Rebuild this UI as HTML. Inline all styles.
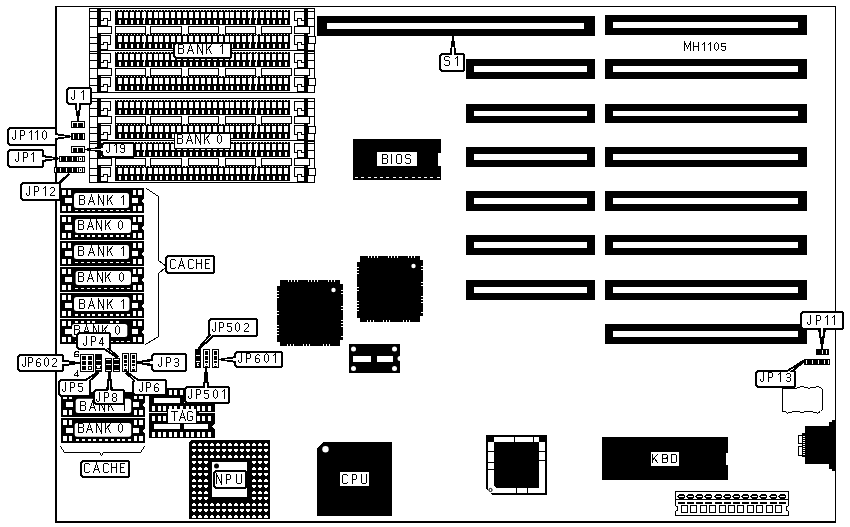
<!DOCTYPE html>
<html><head><meta charset="utf-8"><style>
html,body{margin:0;padding:0;background:#fff;}
svg{display:block;font-family:"Liberation Sans",sans-serif;}
</style></head><body>
<svg width="850" height="527" viewBox="0 0 850 527" shape-rendering="crispEdges">
<rect width="850" height="527" fill="#fff"/>
<rect x="55" y="6" width="781" height="1" fill="#000" />
<rect x="55" y="6" width="2" height="517" fill="#000" />
<rect x="835" y="6" width="1" height="517" fill="#000" />
<rect x="55" y="521" width="781" height="2" fill="#000" />
<rect x="317" y="16" width="278" height="20" fill="#000" />
<rect x="327" y="23" width="257" height="6" fill="#fff" />
<rect x="466" y="59" width="129" height="20" fill="#000" />
<rect x="474" y="66" width="113" height="6" fill="#fff" />
<rect x="466" y="104" width="129" height="19" fill="#000" />
<rect x="474" y="111" width="113" height="5" fill="#fff" />
<rect x="466" y="147" width="129" height="20" fill="#000" />
<rect x="474" y="154" width="113" height="6" fill="#fff" />
<rect x="466" y="191" width="129" height="20" fill="#000" />
<rect x="474" y="198" width="113" height="6" fill="#fff" />
<rect x="466" y="235" width="129" height="20" fill="#000" />
<rect x="474" y="242" width="113" height="6" fill="#fff" />
<rect x="466" y="280" width="129" height="20" fill="#000" />
<rect x="474" y="287" width="113" height="6" fill="#fff" />
<rect x="605" y="15" width="202" height="20" fill="#000" />
<rect x="613" y="22" width="185" height="6" fill="#fff" />
<rect x="605" y="59" width="202" height="20" fill="#000" />
<rect x="613" y="66" width="185" height="6" fill="#fff" />
<rect x="605" y="104" width="202" height="19" fill="#000" />
<rect x="613" y="111" width="185" height="5" fill="#fff" />
<rect x="605" y="147" width="202" height="20" fill="#000" />
<rect x="613" y="154" width="185" height="6" fill="#fff" />
<rect x="605" y="191" width="202" height="20" fill="#000" />
<rect x="613" y="198" width="185" height="6" fill="#fff" />
<rect x="605" y="235" width="202" height="20" fill="#000" />
<rect x="613" y="242" width="185" height="6" fill="#fff" />
<rect x="605" y="280" width="202" height="20" fill="#000" />
<rect x="613" y="287" width="185" height="6" fill="#fff" />
<rect x="605" y="324" width="202" height="20" fill="#000" />
<rect x="613" y="331" width="185" height="6" fill="#fff" />
<rect x="89" y="8" width="226" height="1" fill="#000" />
<rect x="89" y="8" width="1" height="85" fill="#000" />
<rect x="314" y="8" width="1" height="85" fill="#000" />
<rect x="89" y="92" width="226" height="1" fill="#000" />
<rect x="97" y="8" width="4" height="85" fill="#000" />
<rect x="304" y="8" width="4" height="85" fill="#000" />
<rect x="115" y="10" width="175" height="15" fill="#000" />
<rect x="116" y="10" width="1" height="1" fill="#fff" />
<rect x="119" y="10" width="1" height="1" fill="#fff" />
<rect x="122" y="10" width="1" height="1" fill="#fff" />
<rect x="125" y="10" width="1" height="1" fill="#fff" />
<rect x="128" y="10" width="1" height="1" fill="#fff" />
<rect x="131" y="10" width="1" height="1" fill="#fff" />
<rect x="134" y="10" width="1" height="1" fill="#fff" />
<rect x="137" y="10" width="1" height="1" fill="#fff" />
<rect x="140" y="10" width="1" height="1" fill="#fff" />
<rect x="143" y="10" width="1" height="1" fill="#fff" />
<rect x="146" y="10" width="1" height="1" fill="#fff" />
<rect x="149" y="10" width="1" height="1" fill="#fff" />
<rect x="152" y="10" width="1" height="1" fill="#fff" />
<rect x="155" y="10" width="1" height="1" fill="#fff" />
<rect x="158" y="10" width="1" height="1" fill="#fff" />
<rect x="161" y="10" width="1" height="1" fill="#fff" />
<rect x="164" y="10" width="1" height="1" fill="#fff" />
<rect x="167" y="10" width="1" height="1" fill="#fff" />
<rect x="170" y="10" width="1" height="1" fill="#fff" />
<rect x="173" y="10" width="1" height="1" fill="#fff" />
<rect x="176" y="10" width="1" height="1" fill="#fff" />
<rect x="179" y="10" width="1" height="1" fill="#fff" />
<rect x="182" y="10" width="1" height="1" fill="#fff" />
<rect x="185" y="10" width="1" height="1" fill="#fff" />
<rect x="188" y="10" width="1" height="1" fill="#fff" />
<rect x="191" y="10" width="1" height="1" fill="#fff" />
<rect x="194" y="10" width="1" height="1" fill="#fff" />
<rect x="197" y="10" width="1" height="1" fill="#fff" />
<rect x="200" y="10" width="1" height="1" fill="#fff" />
<rect x="203" y="10" width="1" height="1" fill="#fff" />
<rect x="206" y="10" width="1" height="1" fill="#fff" />
<rect x="209" y="10" width="1" height="1" fill="#fff" />
<rect x="212" y="10" width="1" height="1" fill="#fff" />
<rect x="215" y="10" width="1" height="1" fill="#fff" />
<rect x="218" y="10" width="1" height="1" fill="#fff" />
<rect x="221" y="10" width="1" height="1" fill="#fff" />
<rect x="224" y="10" width="1" height="1" fill="#fff" />
<rect x="227" y="10" width="1" height="1" fill="#fff" />
<rect x="230" y="10" width="1" height="1" fill="#fff" />
<rect x="233" y="10" width="1" height="1" fill="#fff" />
<rect x="236" y="10" width="1" height="1" fill="#fff" />
<rect x="239" y="10" width="1" height="1" fill="#fff" />
<rect x="242" y="10" width="1" height="1" fill="#fff" />
<rect x="245" y="10" width="1" height="1" fill="#fff" />
<rect x="248" y="10" width="1" height="1" fill="#fff" />
<rect x="251" y="10" width="1" height="1" fill="#fff" />
<rect x="254" y="10" width="1" height="1" fill="#fff" />
<rect x="257" y="10" width="1" height="1" fill="#fff" />
<rect x="260" y="10" width="1" height="1" fill="#fff" />
<rect x="263" y="10" width="1" height="1" fill="#fff" />
<rect x="266" y="10" width="1" height="1" fill="#fff" />
<rect x="269" y="10" width="1" height="1" fill="#fff" />
<rect x="272" y="10" width="1" height="1" fill="#fff" />
<rect x="275" y="10" width="1" height="1" fill="#fff" />
<rect x="278" y="10" width="1" height="1" fill="#fff" />
<rect x="281" y="10" width="1" height="1" fill="#fff" />
<rect x="284" y="10" width="1" height="1" fill="#fff" />
<rect x="287" y="10" width="1" height="1" fill="#fff" />
<rect x="118" y="12" width="4" height="6" fill="#fff" />
<rect x="119" y="20" width="2" height="4" fill="#fff" />
<rect x="124" y="12" width="4" height="6" fill="#fff" />
<rect x="125" y="20" width="2" height="4" fill="#fff" />
<rect x="130" y="12" width="4" height="6" fill="#fff" />
<rect x="131" y="20" width="2" height="4" fill="#fff" />
<rect x="136" y="12" width="4" height="6" fill="#fff" />
<rect x="137" y="20" width="2" height="4" fill="#fff" />
<rect x="142" y="12" width="4" height="6" fill="#fff" />
<rect x="143" y="20" width="2" height="4" fill="#fff" />
<rect x="144" y="11" width="1" height="13" fill="#fff" />
<rect x="148" y="12" width="4" height="6" fill="#fff" />
<rect x="149" y="20" width="2" height="4" fill="#fff" />
<rect x="154" y="12" width="4" height="6" fill="#fff" />
<rect x="155" y="20" width="2" height="4" fill="#fff" />
<rect x="159" y="12" width="4" height="6" fill="#fff" />
<rect x="160" y="20" width="2" height="4" fill="#fff" />
<rect x="165" y="12" width="4" height="6" fill="#fff" />
<rect x="166" y="20" width="2" height="4" fill="#fff" />
<rect x="171" y="12" width="4" height="6" fill="#fff" />
<rect x="172" y="20" width="2" height="4" fill="#fff" />
<rect x="177" y="12" width="4" height="6" fill="#fff" />
<rect x="178" y="20" width="2" height="4" fill="#fff" />
<rect x="183" y="12" width="4" height="6" fill="#fff" />
<rect x="184" y="20" width="2" height="4" fill="#fff" />
<rect x="189" y="12" width="4" height="6" fill="#fff" />
<rect x="190" y="20" width="2" height="4" fill="#fff" />
<rect x="195" y="12" width="4" height="6" fill="#fff" />
<rect x="196" y="20" width="2" height="4" fill="#fff" />
<rect x="201" y="12" width="4" height="6" fill="#fff" />
<rect x="202" y="20" width="2" height="4" fill="#fff" />
<rect x="207" y="12" width="4" height="6" fill="#fff" />
<rect x="208" y="20" width="2" height="4" fill="#fff" />
<rect x="213" y="12" width="4" height="6" fill="#fff" />
<rect x="214" y="20" width="2" height="4" fill="#fff" />
<rect x="219" y="12" width="4" height="6" fill="#fff" />
<rect x="220" y="20" width="2" height="4" fill="#fff" />
<rect x="225" y="12" width="4" height="6" fill="#fff" />
<rect x="226" y="20" width="2" height="4" fill="#fff" />
<rect x="230" y="12" width="4" height="6" fill="#fff" />
<rect x="231" y="20" width="2" height="4" fill="#fff" />
<rect x="236" y="12" width="4" height="6" fill="#fff" />
<rect x="237" y="20" width="2" height="4" fill="#fff" />
<rect x="242" y="12" width="4" height="6" fill="#fff" />
<rect x="243" y="20" width="2" height="4" fill="#fff" />
<rect x="248" y="12" width="4" height="6" fill="#fff" />
<rect x="249" y="20" width="2" height="4" fill="#fff" />
<rect x="250" y="11" width="1" height="13" fill="#fff" />
<rect x="254" y="12" width="4" height="6" fill="#fff" />
<rect x="255" y="20" width="2" height="4" fill="#fff" />
<rect x="256" y="11" width="1" height="13" fill="#fff" />
<rect x="260" y="12" width="4" height="6" fill="#fff" />
<rect x="261" y="20" width="2" height="4" fill="#fff" />
<rect x="266" y="12" width="4" height="6" fill="#fff" />
<rect x="267" y="20" width="2" height="4" fill="#fff" />
<rect x="272" y="12" width="4" height="6" fill="#fff" />
<rect x="273" y="20" width="2" height="4" fill="#fff" />
<rect x="278" y="12" width="4" height="6" fill="#fff" />
<rect x="279" y="20" width="2" height="4" fill="#fff" />
<rect x="284" y="12" width="4" height="6" fill="#fff" />
<rect x="285" y="20" width="2" height="4" fill="#fff" />
<rect x="115" y="34" width="175" height="15" fill="#000" />
<rect x="116" y="34" width="1" height="1" fill="#fff" />
<rect x="119" y="34" width="1" height="1" fill="#fff" />
<rect x="122" y="34" width="1" height="1" fill="#fff" />
<rect x="125" y="34" width="1" height="1" fill="#fff" />
<rect x="128" y="34" width="1" height="1" fill="#fff" />
<rect x="131" y="34" width="1" height="1" fill="#fff" />
<rect x="134" y="34" width="1" height="1" fill="#fff" />
<rect x="137" y="34" width="1" height="1" fill="#fff" />
<rect x="140" y="34" width="1" height="1" fill="#fff" />
<rect x="143" y="34" width="1" height="1" fill="#fff" />
<rect x="146" y="34" width="1" height="1" fill="#fff" />
<rect x="149" y="34" width="1" height="1" fill="#fff" />
<rect x="152" y="34" width="1" height="1" fill="#fff" />
<rect x="155" y="34" width="1" height="1" fill="#fff" />
<rect x="158" y="34" width="1" height="1" fill="#fff" />
<rect x="161" y="34" width="1" height="1" fill="#fff" />
<rect x="164" y="34" width="1" height="1" fill="#fff" />
<rect x="167" y="34" width="1" height="1" fill="#fff" />
<rect x="170" y="34" width="1" height="1" fill="#fff" />
<rect x="173" y="34" width="1" height="1" fill="#fff" />
<rect x="176" y="34" width="1" height="1" fill="#fff" />
<rect x="179" y="34" width="1" height="1" fill="#fff" />
<rect x="182" y="34" width="1" height="1" fill="#fff" />
<rect x="185" y="34" width="1" height="1" fill="#fff" />
<rect x="188" y="34" width="1" height="1" fill="#fff" />
<rect x="191" y="34" width="1" height="1" fill="#fff" />
<rect x="194" y="34" width="1" height="1" fill="#fff" />
<rect x="197" y="34" width="1" height="1" fill="#fff" />
<rect x="200" y="34" width="1" height="1" fill="#fff" />
<rect x="203" y="34" width="1" height="1" fill="#fff" />
<rect x="206" y="34" width="1" height="1" fill="#fff" />
<rect x="209" y="34" width="1" height="1" fill="#fff" />
<rect x="212" y="34" width="1" height="1" fill="#fff" />
<rect x="215" y="34" width="1" height="1" fill="#fff" />
<rect x="218" y="34" width="1" height="1" fill="#fff" />
<rect x="221" y="34" width="1" height="1" fill="#fff" />
<rect x="224" y="34" width="1" height="1" fill="#fff" />
<rect x="227" y="34" width="1" height="1" fill="#fff" />
<rect x="230" y="34" width="1" height="1" fill="#fff" />
<rect x="233" y="34" width="1" height="1" fill="#fff" />
<rect x="236" y="34" width="1" height="1" fill="#fff" />
<rect x="239" y="34" width="1" height="1" fill="#fff" />
<rect x="242" y="34" width="1" height="1" fill="#fff" />
<rect x="245" y="34" width="1" height="1" fill="#fff" />
<rect x="248" y="34" width="1" height="1" fill="#fff" />
<rect x="251" y="34" width="1" height="1" fill="#fff" />
<rect x="254" y="34" width="1" height="1" fill="#fff" />
<rect x="257" y="34" width="1" height="1" fill="#fff" />
<rect x="260" y="34" width="1" height="1" fill="#fff" />
<rect x="263" y="34" width="1" height="1" fill="#fff" />
<rect x="266" y="34" width="1" height="1" fill="#fff" />
<rect x="269" y="34" width="1" height="1" fill="#fff" />
<rect x="272" y="34" width="1" height="1" fill="#fff" />
<rect x="275" y="34" width="1" height="1" fill="#fff" />
<rect x="278" y="34" width="1" height="1" fill="#fff" />
<rect x="281" y="34" width="1" height="1" fill="#fff" />
<rect x="284" y="34" width="1" height="1" fill="#fff" />
<rect x="287" y="34" width="1" height="1" fill="#fff" />
<rect x="118" y="36" width="4" height="6" fill="#fff" />
<rect x="119" y="44" width="2" height="4" fill="#fff" />
<rect x="124" y="36" width="4" height="6" fill="#fff" />
<rect x="125" y="44" width="2" height="4" fill="#fff" />
<rect x="130" y="36" width="4" height="6" fill="#fff" />
<rect x="131" y="44" width="2" height="4" fill="#fff" />
<rect x="136" y="36" width="4" height="6" fill="#fff" />
<rect x="137" y="44" width="2" height="4" fill="#fff" />
<rect x="142" y="36" width="4" height="6" fill="#fff" />
<rect x="143" y="44" width="2" height="4" fill="#fff" />
<rect x="144" y="35" width="1" height="13" fill="#fff" />
<rect x="148" y="36" width="4" height="6" fill="#fff" />
<rect x="149" y="44" width="2" height="4" fill="#fff" />
<rect x="154" y="36" width="4" height="6" fill="#fff" />
<rect x="155" y="44" width="2" height="4" fill="#fff" />
<rect x="159" y="36" width="4" height="6" fill="#fff" />
<rect x="160" y="44" width="2" height="4" fill="#fff" />
<rect x="165" y="36" width="4" height="6" fill="#fff" />
<rect x="166" y="44" width="2" height="4" fill="#fff" />
<rect x="171" y="36" width="4" height="6" fill="#fff" />
<rect x="172" y="44" width="2" height="4" fill="#fff" />
<rect x="177" y="36" width="4" height="6" fill="#fff" />
<rect x="178" y="44" width="2" height="4" fill="#fff" />
<rect x="183" y="36" width="4" height="6" fill="#fff" />
<rect x="184" y="44" width="2" height="4" fill="#fff" />
<rect x="189" y="36" width="4" height="6" fill="#fff" />
<rect x="190" y="44" width="2" height="4" fill="#fff" />
<rect x="195" y="36" width="4" height="6" fill="#fff" />
<rect x="196" y="44" width="2" height="4" fill="#fff" />
<rect x="201" y="36" width="4" height="6" fill="#fff" />
<rect x="202" y="44" width="2" height="4" fill="#fff" />
<rect x="207" y="36" width="4" height="6" fill="#fff" />
<rect x="208" y="44" width="2" height="4" fill="#fff" />
<rect x="213" y="36" width="4" height="6" fill="#fff" />
<rect x="214" y="44" width="2" height="4" fill="#fff" />
<rect x="219" y="36" width="4" height="6" fill="#fff" />
<rect x="220" y="44" width="2" height="4" fill="#fff" />
<rect x="225" y="36" width="4" height="6" fill="#fff" />
<rect x="226" y="44" width="2" height="4" fill="#fff" />
<rect x="230" y="36" width="4" height="6" fill="#fff" />
<rect x="231" y="44" width="2" height="4" fill="#fff" />
<rect x="236" y="36" width="4" height="6" fill="#fff" />
<rect x="237" y="44" width="2" height="4" fill="#fff" />
<rect x="242" y="36" width="4" height="6" fill="#fff" />
<rect x="243" y="44" width="2" height="4" fill="#fff" />
<rect x="248" y="36" width="4" height="6" fill="#fff" />
<rect x="249" y="44" width="2" height="4" fill="#fff" />
<rect x="250" y="35" width="1" height="13" fill="#fff" />
<rect x="254" y="36" width="4" height="6" fill="#fff" />
<rect x="255" y="44" width="2" height="4" fill="#fff" />
<rect x="256" y="35" width="1" height="13" fill="#fff" />
<rect x="260" y="36" width="4" height="6" fill="#fff" />
<rect x="261" y="44" width="2" height="4" fill="#fff" />
<rect x="266" y="36" width="4" height="6" fill="#fff" />
<rect x="267" y="44" width="2" height="4" fill="#fff" />
<rect x="272" y="36" width="4" height="6" fill="#fff" />
<rect x="273" y="44" width="2" height="4" fill="#fff" />
<rect x="278" y="36" width="4" height="6" fill="#fff" />
<rect x="279" y="44" width="2" height="4" fill="#fff" />
<rect x="284" y="36" width="4" height="6" fill="#fff" />
<rect x="285" y="44" width="2" height="4" fill="#fff" />
<rect x="115" y="52" width="175" height="15" fill="#000" />
<rect x="116" y="52" width="1" height="1" fill="#fff" />
<rect x="119" y="52" width="1" height="1" fill="#fff" />
<rect x="122" y="52" width="1" height="1" fill="#fff" />
<rect x="125" y="52" width="1" height="1" fill="#fff" />
<rect x="128" y="52" width="1" height="1" fill="#fff" />
<rect x="131" y="52" width="1" height="1" fill="#fff" />
<rect x="134" y="52" width="1" height="1" fill="#fff" />
<rect x="137" y="52" width="1" height="1" fill="#fff" />
<rect x="140" y="52" width="1" height="1" fill="#fff" />
<rect x="143" y="52" width="1" height="1" fill="#fff" />
<rect x="146" y="52" width="1" height="1" fill="#fff" />
<rect x="149" y="52" width="1" height="1" fill="#fff" />
<rect x="152" y="52" width="1" height="1" fill="#fff" />
<rect x="155" y="52" width="1" height="1" fill="#fff" />
<rect x="158" y="52" width="1" height="1" fill="#fff" />
<rect x="161" y="52" width="1" height="1" fill="#fff" />
<rect x="164" y="52" width="1" height="1" fill="#fff" />
<rect x="167" y="52" width="1" height="1" fill="#fff" />
<rect x="170" y="52" width="1" height="1" fill="#fff" />
<rect x="173" y="52" width="1" height="1" fill="#fff" />
<rect x="176" y="52" width="1" height="1" fill="#fff" />
<rect x="179" y="52" width="1" height="1" fill="#fff" />
<rect x="182" y="52" width="1" height="1" fill="#fff" />
<rect x="185" y="52" width="1" height="1" fill="#fff" />
<rect x="188" y="52" width="1" height="1" fill="#fff" />
<rect x="191" y="52" width="1" height="1" fill="#fff" />
<rect x="194" y="52" width="1" height="1" fill="#fff" />
<rect x="197" y="52" width="1" height="1" fill="#fff" />
<rect x="200" y="52" width="1" height="1" fill="#fff" />
<rect x="203" y="52" width="1" height="1" fill="#fff" />
<rect x="206" y="52" width="1" height="1" fill="#fff" />
<rect x="209" y="52" width="1" height="1" fill="#fff" />
<rect x="212" y="52" width="1" height="1" fill="#fff" />
<rect x="215" y="52" width="1" height="1" fill="#fff" />
<rect x="218" y="52" width="1" height="1" fill="#fff" />
<rect x="221" y="52" width="1" height="1" fill="#fff" />
<rect x="224" y="52" width="1" height="1" fill="#fff" />
<rect x="227" y="52" width="1" height="1" fill="#fff" />
<rect x="230" y="52" width="1" height="1" fill="#fff" />
<rect x="233" y="52" width="1" height="1" fill="#fff" />
<rect x="236" y="52" width="1" height="1" fill="#fff" />
<rect x="239" y="52" width="1" height="1" fill="#fff" />
<rect x="242" y="52" width="1" height="1" fill="#fff" />
<rect x="245" y="52" width="1" height="1" fill="#fff" />
<rect x="248" y="52" width="1" height="1" fill="#fff" />
<rect x="251" y="52" width="1" height="1" fill="#fff" />
<rect x="254" y="52" width="1" height="1" fill="#fff" />
<rect x="257" y="52" width="1" height="1" fill="#fff" />
<rect x="260" y="52" width="1" height="1" fill="#fff" />
<rect x="263" y="52" width="1" height="1" fill="#fff" />
<rect x="266" y="52" width="1" height="1" fill="#fff" />
<rect x="269" y="52" width="1" height="1" fill="#fff" />
<rect x="272" y="52" width="1" height="1" fill="#fff" />
<rect x="275" y="52" width="1" height="1" fill="#fff" />
<rect x="278" y="52" width="1" height="1" fill="#fff" />
<rect x="281" y="52" width="1" height="1" fill="#fff" />
<rect x="284" y="52" width="1" height="1" fill="#fff" />
<rect x="287" y="52" width="1" height="1" fill="#fff" />
<rect x="118" y="54" width="4" height="6" fill="#fff" />
<rect x="119" y="62" width="2" height="4" fill="#fff" />
<rect x="124" y="54" width="4" height="6" fill="#fff" />
<rect x="125" y="62" width="2" height="4" fill="#fff" />
<rect x="130" y="54" width="4" height="6" fill="#fff" />
<rect x="131" y="62" width="2" height="4" fill="#fff" />
<rect x="136" y="54" width="4" height="6" fill="#fff" />
<rect x="137" y="62" width="2" height="4" fill="#fff" />
<rect x="142" y="54" width="4" height="6" fill="#fff" />
<rect x="143" y="62" width="2" height="4" fill="#fff" />
<rect x="144" y="53" width="1" height="13" fill="#fff" />
<rect x="148" y="54" width="4" height="6" fill="#fff" />
<rect x="149" y="62" width="2" height="4" fill="#fff" />
<rect x="154" y="54" width="4" height="6" fill="#fff" />
<rect x="155" y="62" width="2" height="4" fill="#fff" />
<rect x="159" y="54" width="4" height="6" fill="#fff" />
<rect x="160" y="62" width="2" height="4" fill="#fff" />
<rect x="165" y="54" width="4" height="6" fill="#fff" />
<rect x="166" y="62" width="2" height="4" fill="#fff" />
<rect x="171" y="54" width="4" height="6" fill="#fff" />
<rect x="172" y="62" width="2" height="4" fill="#fff" />
<rect x="177" y="54" width="4" height="6" fill="#fff" />
<rect x="178" y="62" width="2" height="4" fill="#fff" />
<rect x="183" y="54" width="4" height="6" fill="#fff" />
<rect x="184" y="62" width="2" height="4" fill="#fff" />
<rect x="189" y="54" width="4" height="6" fill="#fff" />
<rect x="190" y="62" width="2" height="4" fill="#fff" />
<rect x="195" y="54" width="4" height="6" fill="#fff" />
<rect x="196" y="62" width="2" height="4" fill="#fff" />
<rect x="201" y="54" width="4" height="6" fill="#fff" />
<rect x="202" y="62" width="2" height="4" fill="#fff" />
<rect x="207" y="54" width="4" height="6" fill="#fff" />
<rect x="208" y="62" width="2" height="4" fill="#fff" />
<rect x="213" y="54" width="4" height="6" fill="#fff" />
<rect x="214" y="62" width="2" height="4" fill="#fff" />
<rect x="219" y="54" width="4" height="6" fill="#fff" />
<rect x="220" y="62" width="2" height="4" fill="#fff" />
<rect x="225" y="54" width="4" height="6" fill="#fff" />
<rect x="226" y="62" width="2" height="4" fill="#fff" />
<rect x="230" y="54" width="4" height="6" fill="#fff" />
<rect x="231" y="62" width="2" height="4" fill="#fff" />
<rect x="236" y="54" width="4" height="6" fill="#fff" />
<rect x="237" y="62" width="2" height="4" fill="#fff" />
<rect x="242" y="54" width="4" height="6" fill="#fff" />
<rect x="243" y="62" width="2" height="4" fill="#fff" />
<rect x="248" y="54" width="4" height="6" fill="#fff" />
<rect x="249" y="62" width="2" height="4" fill="#fff" />
<rect x="250" y="53" width="1" height="13" fill="#fff" />
<rect x="254" y="54" width="4" height="6" fill="#fff" />
<rect x="255" y="62" width="2" height="4" fill="#fff" />
<rect x="256" y="53" width="1" height="13" fill="#fff" />
<rect x="260" y="54" width="4" height="6" fill="#fff" />
<rect x="261" y="62" width="2" height="4" fill="#fff" />
<rect x="266" y="54" width="4" height="6" fill="#fff" />
<rect x="267" y="62" width="2" height="4" fill="#fff" />
<rect x="272" y="54" width="4" height="6" fill="#fff" />
<rect x="273" y="62" width="2" height="4" fill="#fff" />
<rect x="278" y="54" width="4" height="6" fill="#fff" />
<rect x="279" y="62" width="2" height="4" fill="#fff" />
<rect x="284" y="54" width="4" height="6" fill="#fff" />
<rect x="285" y="62" width="2" height="4" fill="#fff" />
<rect x="115" y="76" width="175" height="15" fill="#000" />
<rect x="116" y="76" width="1" height="1" fill="#fff" />
<rect x="119" y="76" width="1" height="1" fill="#fff" />
<rect x="122" y="76" width="1" height="1" fill="#fff" />
<rect x="125" y="76" width="1" height="1" fill="#fff" />
<rect x="128" y="76" width="1" height="1" fill="#fff" />
<rect x="131" y="76" width="1" height="1" fill="#fff" />
<rect x="134" y="76" width="1" height="1" fill="#fff" />
<rect x="137" y="76" width="1" height="1" fill="#fff" />
<rect x="140" y="76" width="1" height="1" fill="#fff" />
<rect x="143" y="76" width="1" height="1" fill="#fff" />
<rect x="146" y="76" width="1" height="1" fill="#fff" />
<rect x="149" y="76" width="1" height="1" fill="#fff" />
<rect x="152" y="76" width="1" height="1" fill="#fff" />
<rect x="155" y="76" width="1" height="1" fill="#fff" />
<rect x="158" y="76" width="1" height="1" fill="#fff" />
<rect x="161" y="76" width="1" height="1" fill="#fff" />
<rect x="164" y="76" width="1" height="1" fill="#fff" />
<rect x="167" y="76" width="1" height="1" fill="#fff" />
<rect x="170" y="76" width="1" height="1" fill="#fff" />
<rect x="173" y="76" width="1" height="1" fill="#fff" />
<rect x="176" y="76" width="1" height="1" fill="#fff" />
<rect x="179" y="76" width="1" height="1" fill="#fff" />
<rect x="182" y="76" width="1" height="1" fill="#fff" />
<rect x="185" y="76" width="1" height="1" fill="#fff" />
<rect x="188" y="76" width="1" height="1" fill="#fff" />
<rect x="191" y="76" width="1" height="1" fill="#fff" />
<rect x="194" y="76" width="1" height="1" fill="#fff" />
<rect x="197" y="76" width="1" height="1" fill="#fff" />
<rect x="200" y="76" width="1" height="1" fill="#fff" />
<rect x="203" y="76" width="1" height="1" fill="#fff" />
<rect x="206" y="76" width="1" height="1" fill="#fff" />
<rect x="209" y="76" width="1" height="1" fill="#fff" />
<rect x="212" y="76" width="1" height="1" fill="#fff" />
<rect x="215" y="76" width="1" height="1" fill="#fff" />
<rect x="218" y="76" width="1" height="1" fill="#fff" />
<rect x="221" y="76" width="1" height="1" fill="#fff" />
<rect x="224" y="76" width="1" height="1" fill="#fff" />
<rect x="227" y="76" width="1" height="1" fill="#fff" />
<rect x="230" y="76" width="1" height="1" fill="#fff" />
<rect x="233" y="76" width="1" height="1" fill="#fff" />
<rect x="236" y="76" width="1" height="1" fill="#fff" />
<rect x="239" y="76" width="1" height="1" fill="#fff" />
<rect x="242" y="76" width="1" height="1" fill="#fff" />
<rect x="245" y="76" width="1" height="1" fill="#fff" />
<rect x="248" y="76" width="1" height="1" fill="#fff" />
<rect x="251" y="76" width="1" height="1" fill="#fff" />
<rect x="254" y="76" width="1" height="1" fill="#fff" />
<rect x="257" y="76" width="1" height="1" fill="#fff" />
<rect x="260" y="76" width="1" height="1" fill="#fff" />
<rect x="263" y="76" width="1" height="1" fill="#fff" />
<rect x="266" y="76" width="1" height="1" fill="#fff" />
<rect x="269" y="76" width="1" height="1" fill="#fff" />
<rect x="272" y="76" width="1" height="1" fill="#fff" />
<rect x="275" y="76" width="1" height="1" fill="#fff" />
<rect x="278" y="76" width="1" height="1" fill="#fff" />
<rect x="281" y="76" width="1" height="1" fill="#fff" />
<rect x="284" y="76" width="1" height="1" fill="#fff" />
<rect x="287" y="76" width="1" height="1" fill="#fff" />
<rect x="118" y="78" width="4" height="6" fill="#fff" />
<rect x="119" y="86" width="2" height="4" fill="#fff" />
<rect x="124" y="78" width="4" height="6" fill="#fff" />
<rect x="125" y="86" width="2" height="4" fill="#fff" />
<rect x="130" y="78" width="4" height="6" fill="#fff" />
<rect x="131" y="86" width="2" height="4" fill="#fff" />
<rect x="136" y="78" width="4" height="6" fill="#fff" />
<rect x="137" y="86" width="2" height="4" fill="#fff" />
<rect x="142" y="78" width="4" height="6" fill="#fff" />
<rect x="143" y="86" width="2" height="4" fill="#fff" />
<rect x="144" y="77" width="1" height="13" fill="#fff" />
<rect x="148" y="78" width="4" height="6" fill="#fff" />
<rect x="149" y="86" width="2" height="4" fill="#fff" />
<rect x="154" y="78" width="4" height="6" fill="#fff" />
<rect x="155" y="86" width="2" height="4" fill="#fff" />
<rect x="159" y="78" width="4" height="6" fill="#fff" />
<rect x="160" y="86" width="2" height="4" fill="#fff" />
<rect x="165" y="78" width="4" height="6" fill="#fff" />
<rect x="166" y="86" width="2" height="4" fill="#fff" />
<rect x="171" y="78" width="4" height="6" fill="#fff" />
<rect x="172" y="86" width="2" height="4" fill="#fff" />
<rect x="177" y="78" width="4" height="6" fill="#fff" />
<rect x="178" y="86" width="2" height="4" fill="#fff" />
<rect x="183" y="78" width="4" height="6" fill="#fff" />
<rect x="184" y="86" width="2" height="4" fill="#fff" />
<rect x="189" y="78" width="4" height="6" fill="#fff" />
<rect x="190" y="86" width="2" height="4" fill="#fff" />
<rect x="195" y="78" width="4" height="6" fill="#fff" />
<rect x="196" y="86" width="2" height="4" fill="#fff" />
<rect x="201" y="78" width="4" height="6" fill="#fff" />
<rect x="202" y="86" width="2" height="4" fill="#fff" />
<rect x="207" y="78" width="4" height="6" fill="#fff" />
<rect x="208" y="86" width="2" height="4" fill="#fff" />
<rect x="213" y="78" width="4" height="6" fill="#fff" />
<rect x="214" y="86" width="2" height="4" fill="#fff" />
<rect x="219" y="78" width="4" height="6" fill="#fff" />
<rect x="220" y="86" width="2" height="4" fill="#fff" />
<rect x="225" y="78" width="4" height="6" fill="#fff" />
<rect x="226" y="86" width="2" height="4" fill="#fff" />
<rect x="230" y="78" width="4" height="6" fill="#fff" />
<rect x="231" y="86" width="2" height="4" fill="#fff" />
<rect x="236" y="78" width="4" height="6" fill="#fff" />
<rect x="237" y="86" width="2" height="4" fill="#fff" />
<rect x="242" y="78" width="4" height="6" fill="#fff" />
<rect x="243" y="86" width="2" height="4" fill="#fff" />
<rect x="248" y="78" width="4" height="6" fill="#fff" />
<rect x="249" y="86" width="2" height="4" fill="#fff" />
<rect x="250" y="77" width="1" height="13" fill="#fff" />
<rect x="254" y="78" width="4" height="6" fill="#fff" />
<rect x="255" y="86" width="2" height="4" fill="#fff" />
<rect x="256" y="77" width="1" height="13" fill="#fff" />
<rect x="260" y="78" width="4" height="6" fill="#fff" />
<rect x="261" y="86" width="2" height="4" fill="#fff" />
<rect x="266" y="78" width="4" height="6" fill="#fff" />
<rect x="267" y="86" width="2" height="4" fill="#fff" />
<rect x="272" y="78" width="4" height="6" fill="#fff" />
<rect x="273" y="86" width="2" height="4" fill="#fff" />
<rect x="278" y="78" width="4" height="6" fill="#fff" />
<rect x="279" y="86" width="2" height="4" fill="#fff" />
<rect x="284" y="78" width="4" height="6" fill="#fff" />
<rect x="285" y="86" width="2" height="4" fill="#fff" />
<rect x="97" y="50" width="218" height="1" fill="#000" />
<rect x="97" y="26" width="15" height="8" fill="#000" />
<rect x="98" y="27" width="13" height="6" fill="#fff" />
<rect x="115" y="26" width="31" height="8" fill="#000" />
<rect x="116" y="27" width="29" height="6" fill="#fff" />
<rect x="150" y="26" width="32" height="8" fill="#000" />
<rect x="151" y="27" width="30" height="6" fill="#fff" />
<rect x="188" y="26" width="31" height="8" fill="#000" />
<rect x="189" y="27" width="29" height="6" fill="#fff" />
<rect x="225" y="26" width="31" height="8" fill="#000" />
<rect x="226" y="27" width="29" height="6" fill="#fff" />
<rect x="261" y="26" width="31" height="8" fill="#000" />
<rect x="262" y="27" width="29" height="6" fill="#fff" />
<rect x="294" y="26" width="16" height="8" fill="#000" />
<rect x="295" y="27" width="14" height="6" fill="#fff" />
<rect x="97" y="68" width="15" height="8" fill="#000" />
<rect x="98" y="69" width="13" height="6" fill="#fff" />
<rect x="115" y="68" width="31" height="8" fill="#000" />
<rect x="116" y="69" width="29" height="6" fill="#fff" />
<rect x="150" y="68" width="32" height="8" fill="#000" />
<rect x="151" y="69" width="30" height="6" fill="#fff" />
<rect x="188" y="68" width="31" height="8" fill="#000" />
<rect x="189" y="69" width="29" height="6" fill="#fff" />
<rect x="225" y="68" width="31" height="8" fill="#000" />
<rect x="226" y="69" width="29" height="6" fill="#fff" />
<rect x="261" y="68" width="31" height="8" fill="#000" />
<rect x="262" y="69" width="29" height="6" fill="#fff" />
<rect x="294" y="68" width="16" height="8" fill="#000" />
<rect x="295" y="69" width="14" height="6" fill="#fff" />
<rect x="101" y="11" width="10" height="1" fill="#000" />
<rect x="110" y="11" width="1" height="10" fill="#000" />
<rect x="101" y="20" width="3" height="1" fill="#000" />
<rect x="103" y="18" width="1" height="3" fill="#000" />
<rect x="103" y="18" width="5" height="1" fill="#000" />
<rect x="107" y="18" width="1" height="8" fill="#000" />
<rect x="107" y="20" width="4" height="1" fill="#000" />
<rect x="97" y="25" width="11" height="1" fill="#000" />
<rect x="294" y="11" width="10" height="1" fill="#000" />
<rect x="294" y="11" width="1" height="10" fill="#000" />
<rect x="294" y="20" width="4" height="1" fill="#000" />
<rect x="297" y="18" width="1" height="8" fill="#000" />
<rect x="297" y="18" width="5" height="1" fill="#000" />
<rect x="301" y="18" width="1" height="3" fill="#000" />
<rect x="301" y="20" width="3" height="1" fill="#000" />
<rect x="297" y="25" width="7" height="1" fill="#000" />
<rect x="101" y="35" width="10" height="1" fill="#000" />
<rect x="110" y="35" width="1" height="10" fill="#000" />
<rect x="101" y="44" width="3" height="1" fill="#000" />
<rect x="103" y="42" width="1" height="3" fill="#000" />
<rect x="103" y="42" width="5" height="1" fill="#000" />
<rect x="107" y="42" width="1" height="8" fill="#000" />
<rect x="107" y="44" width="4" height="1" fill="#000" />
<rect x="97" y="49" width="11" height="1" fill="#000" />
<rect x="294" y="35" width="10" height="1" fill="#000" />
<rect x="294" y="35" width="1" height="10" fill="#000" />
<rect x="294" y="44" width="4" height="1" fill="#000" />
<rect x="297" y="42" width="1" height="8" fill="#000" />
<rect x="297" y="42" width="5" height="1" fill="#000" />
<rect x="301" y="42" width="1" height="3" fill="#000" />
<rect x="301" y="44" width="3" height="1" fill="#000" />
<rect x="297" y="49" width="7" height="1" fill="#000" />
<rect x="101" y="53" width="10" height="1" fill="#000" />
<rect x="110" y="53" width="1" height="10" fill="#000" />
<rect x="101" y="62" width="3" height="1" fill="#000" />
<rect x="103" y="60" width="1" height="3" fill="#000" />
<rect x="103" y="60" width="5" height="1" fill="#000" />
<rect x="107" y="60" width="1" height="8" fill="#000" />
<rect x="107" y="62" width="4" height="1" fill="#000" />
<rect x="97" y="67" width="11" height="1" fill="#000" />
<rect x="294" y="53" width="10" height="1" fill="#000" />
<rect x="294" y="53" width="1" height="10" fill="#000" />
<rect x="294" y="62" width="4" height="1" fill="#000" />
<rect x="297" y="60" width="1" height="8" fill="#000" />
<rect x="297" y="60" width="5" height="1" fill="#000" />
<rect x="301" y="60" width="1" height="3" fill="#000" />
<rect x="301" y="62" width="3" height="1" fill="#000" />
<rect x="297" y="67" width="7" height="1" fill="#000" />
<rect x="101" y="77" width="10" height="1" fill="#000" />
<rect x="110" y="77" width="1" height="10" fill="#000" />
<rect x="101" y="86" width="3" height="1" fill="#000" />
<rect x="103" y="84" width="1" height="3" fill="#000" />
<rect x="103" y="84" width="5" height="1" fill="#000" />
<rect x="107" y="84" width="1" height="8" fill="#000" />
<rect x="107" y="86" width="4" height="1" fill="#000" />
<rect x="97" y="91" width="11" height="1" fill="#000" />
<rect x="294" y="77" width="10" height="1" fill="#000" />
<rect x="294" y="77" width="1" height="10" fill="#000" />
<rect x="294" y="86" width="4" height="1" fill="#000" />
<rect x="297" y="84" width="1" height="8" fill="#000" />
<rect x="297" y="84" width="5" height="1" fill="#000" />
<rect x="301" y="84" width="1" height="3" fill="#000" />
<rect x="301" y="86" width="3" height="1" fill="#000" />
<rect x="297" y="91" width="7" height="1" fill="#000" />
<rect x="89" y="11" width="8" height="1" fill="#000" />
<rect x="89" y="18" width="8" height="1" fill="#000" />
<rect x="89" y="26" width="8" height="1" fill="#000" />
<rect x="89" y="37" width="8" height="1" fill="#000" />
<rect x="89" y="43" width="8" height="1" fill="#000" />
<rect x="89" y="51" width="8" height="1" fill="#000" />
<rect x="89" y="53" width="8" height="1" fill="#000" />
<rect x="89" y="60" width="8" height="1" fill="#000" />
<rect x="89" y="68" width="8" height="1" fill="#000" />
<rect x="89" y="78" width="8" height="1" fill="#000" />
<rect x="89" y="85" width="8" height="1" fill="#000" />
<rect x="308" y="11" width="6" height="1" fill="#000" />
<rect x="308" y="18" width="6" height="1" fill="#000" />
<rect x="308" y="26" width="6" height="1" fill="#000" />
<rect x="308" y="51" width="6" height="1" fill="#000" />
<rect x="308" y="53" width="6" height="1" fill="#000" />
<rect x="308" y="60" width="6" height="1" fill="#000" />
<rect x="308" y="68" width="6" height="1" fill="#000" />
<rect x="308" y="36" width="8" height="8" fill="#000" />
<rect x="309" y="37" width="6" height="6" fill="#fff" />
<rect x="308" y="78" width="8" height="8" fill="#000" />
<rect x="309" y="79" width="6" height="6" fill="#fff" />
<rect x="89" y="98" width="226" height="1" fill="#000" />
<rect x="89" y="98" width="1" height="85" fill="#000" />
<rect x="314" y="98" width="1" height="85" fill="#000" />
<rect x="89" y="182" width="226" height="1" fill="#000" />
<rect x="97" y="98" width="4" height="85" fill="#000" />
<rect x="304" y="98" width="4" height="85" fill="#000" />
<rect x="115" y="100" width="175" height="15" fill="#000" />
<rect x="116" y="100" width="1" height="1" fill="#fff" />
<rect x="119" y="100" width="1" height="1" fill="#fff" />
<rect x="122" y="100" width="1" height="1" fill="#fff" />
<rect x="125" y="100" width="1" height="1" fill="#fff" />
<rect x="128" y="100" width="1" height="1" fill="#fff" />
<rect x="131" y="100" width="1" height="1" fill="#fff" />
<rect x="134" y="100" width="1" height="1" fill="#fff" />
<rect x="137" y="100" width="1" height="1" fill="#fff" />
<rect x="140" y="100" width="1" height="1" fill="#fff" />
<rect x="143" y="100" width="1" height="1" fill="#fff" />
<rect x="146" y="100" width="1" height="1" fill="#fff" />
<rect x="149" y="100" width="1" height="1" fill="#fff" />
<rect x="152" y="100" width="1" height="1" fill="#fff" />
<rect x="155" y="100" width="1" height="1" fill="#fff" />
<rect x="158" y="100" width="1" height="1" fill="#fff" />
<rect x="161" y="100" width="1" height="1" fill="#fff" />
<rect x="164" y="100" width="1" height="1" fill="#fff" />
<rect x="167" y="100" width="1" height="1" fill="#fff" />
<rect x="170" y="100" width="1" height="1" fill="#fff" />
<rect x="173" y="100" width="1" height="1" fill="#fff" />
<rect x="176" y="100" width="1" height="1" fill="#fff" />
<rect x="179" y="100" width="1" height="1" fill="#fff" />
<rect x="182" y="100" width="1" height="1" fill="#fff" />
<rect x="185" y="100" width="1" height="1" fill="#fff" />
<rect x="188" y="100" width="1" height="1" fill="#fff" />
<rect x="191" y="100" width="1" height="1" fill="#fff" />
<rect x="194" y="100" width="1" height="1" fill="#fff" />
<rect x="197" y="100" width="1" height="1" fill="#fff" />
<rect x="200" y="100" width="1" height="1" fill="#fff" />
<rect x="203" y="100" width="1" height="1" fill="#fff" />
<rect x="206" y="100" width="1" height="1" fill="#fff" />
<rect x="209" y="100" width="1" height="1" fill="#fff" />
<rect x="212" y="100" width="1" height="1" fill="#fff" />
<rect x="215" y="100" width="1" height="1" fill="#fff" />
<rect x="218" y="100" width="1" height="1" fill="#fff" />
<rect x="221" y="100" width="1" height="1" fill="#fff" />
<rect x="224" y="100" width="1" height="1" fill="#fff" />
<rect x="227" y="100" width="1" height="1" fill="#fff" />
<rect x="230" y="100" width="1" height="1" fill="#fff" />
<rect x="233" y="100" width="1" height="1" fill="#fff" />
<rect x="236" y="100" width="1" height="1" fill="#fff" />
<rect x="239" y="100" width="1" height="1" fill="#fff" />
<rect x="242" y="100" width="1" height="1" fill="#fff" />
<rect x="245" y="100" width="1" height="1" fill="#fff" />
<rect x="248" y="100" width="1" height="1" fill="#fff" />
<rect x="251" y="100" width="1" height="1" fill="#fff" />
<rect x="254" y="100" width="1" height="1" fill="#fff" />
<rect x="257" y="100" width="1" height="1" fill="#fff" />
<rect x="260" y="100" width="1" height="1" fill="#fff" />
<rect x="263" y="100" width="1" height="1" fill="#fff" />
<rect x="266" y="100" width="1" height="1" fill="#fff" />
<rect x="269" y="100" width="1" height="1" fill="#fff" />
<rect x="272" y="100" width="1" height="1" fill="#fff" />
<rect x="275" y="100" width="1" height="1" fill="#fff" />
<rect x="278" y="100" width="1" height="1" fill="#fff" />
<rect x="281" y="100" width="1" height="1" fill="#fff" />
<rect x="284" y="100" width="1" height="1" fill="#fff" />
<rect x="287" y="100" width="1" height="1" fill="#fff" />
<rect x="118" y="102" width="4" height="6" fill="#fff" />
<rect x="119" y="110" width="2" height="4" fill="#fff" />
<rect x="124" y="102" width="4" height="6" fill="#fff" />
<rect x="125" y="110" width="2" height="4" fill="#fff" />
<rect x="130" y="102" width="4" height="6" fill="#fff" />
<rect x="131" y="110" width="2" height="4" fill="#fff" />
<rect x="136" y="102" width="4" height="6" fill="#fff" />
<rect x="137" y="110" width="2" height="4" fill="#fff" />
<rect x="142" y="102" width="4" height="6" fill="#fff" />
<rect x="143" y="110" width="2" height="4" fill="#fff" />
<rect x="144" y="101" width="1" height="13" fill="#fff" />
<rect x="148" y="102" width="4" height="6" fill="#fff" />
<rect x="149" y="110" width="2" height="4" fill="#fff" />
<rect x="154" y="102" width="4" height="6" fill="#fff" />
<rect x="155" y="110" width="2" height="4" fill="#fff" />
<rect x="159" y="102" width="4" height="6" fill="#fff" />
<rect x="160" y="110" width="2" height="4" fill="#fff" />
<rect x="165" y="102" width="4" height="6" fill="#fff" />
<rect x="166" y="110" width="2" height="4" fill="#fff" />
<rect x="171" y="102" width="4" height="6" fill="#fff" />
<rect x="172" y="110" width="2" height="4" fill="#fff" />
<rect x="177" y="102" width="4" height="6" fill="#fff" />
<rect x="178" y="110" width="2" height="4" fill="#fff" />
<rect x="183" y="102" width="4" height="6" fill="#fff" />
<rect x="184" y="110" width="2" height="4" fill="#fff" />
<rect x="189" y="102" width="4" height="6" fill="#fff" />
<rect x="190" y="110" width="2" height="4" fill="#fff" />
<rect x="195" y="102" width="4" height="6" fill="#fff" />
<rect x="196" y="110" width="2" height="4" fill="#fff" />
<rect x="201" y="102" width="4" height="6" fill="#fff" />
<rect x="202" y="110" width="2" height="4" fill="#fff" />
<rect x="207" y="102" width="4" height="6" fill="#fff" />
<rect x="208" y="110" width="2" height="4" fill="#fff" />
<rect x="213" y="102" width="4" height="6" fill="#fff" />
<rect x="214" y="110" width="2" height="4" fill="#fff" />
<rect x="219" y="102" width="4" height="6" fill="#fff" />
<rect x="220" y="110" width="2" height="4" fill="#fff" />
<rect x="225" y="102" width="4" height="6" fill="#fff" />
<rect x="226" y="110" width="2" height="4" fill="#fff" />
<rect x="230" y="102" width="4" height="6" fill="#fff" />
<rect x="231" y="110" width="2" height="4" fill="#fff" />
<rect x="236" y="102" width="4" height="6" fill="#fff" />
<rect x="237" y="110" width="2" height="4" fill="#fff" />
<rect x="242" y="102" width="4" height="6" fill="#fff" />
<rect x="243" y="110" width="2" height="4" fill="#fff" />
<rect x="248" y="102" width="4" height="6" fill="#fff" />
<rect x="249" y="110" width="2" height="4" fill="#fff" />
<rect x="250" y="101" width="1" height="13" fill="#fff" />
<rect x="254" y="102" width="4" height="6" fill="#fff" />
<rect x="255" y="110" width="2" height="4" fill="#fff" />
<rect x="256" y="101" width="1" height="13" fill="#fff" />
<rect x="260" y="102" width="4" height="6" fill="#fff" />
<rect x="261" y="110" width="2" height="4" fill="#fff" />
<rect x="266" y="102" width="4" height="6" fill="#fff" />
<rect x="267" y="110" width="2" height="4" fill="#fff" />
<rect x="272" y="102" width="4" height="6" fill="#fff" />
<rect x="273" y="110" width="2" height="4" fill="#fff" />
<rect x="278" y="102" width="4" height="6" fill="#fff" />
<rect x="279" y="110" width="2" height="4" fill="#fff" />
<rect x="284" y="102" width="4" height="6" fill="#fff" />
<rect x="285" y="110" width="2" height="4" fill="#fff" />
<rect x="115" y="124" width="175" height="15" fill="#000" />
<rect x="116" y="124" width="1" height="1" fill="#fff" />
<rect x="119" y="124" width="1" height="1" fill="#fff" />
<rect x="122" y="124" width="1" height="1" fill="#fff" />
<rect x="125" y="124" width="1" height="1" fill="#fff" />
<rect x="128" y="124" width="1" height="1" fill="#fff" />
<rect x="131" y="124" width="1" height="1" fill="#fff" />
<rect x="134" y="124" width="1" height="1" fill="#fff" />
<rect x="137" y="124" width="1" height="1" fill="#fff" />
<rect x="140" y="124" width="1" height="1" fill="#fff" />
<rect x="143" y="124" width="1" height="1" fill="#fff" />
<rect x="146" y="124" width="1" height="1" fill="#fff" />
<rect x="149" y="124" width="1" height="1" fill="#fff" />
<rect x="152" y="124" width="1" height="1" fill="#fff" />
<rect x="155" y="124" width="1" height="1" fill="#fff" />
<rect x="158" y="124" width="1" height="1" fill="#fff" />
<rect x="161" y="124" width="1" height="1" fill="#fff" />
<rect x="164" y="124" width="1" height="1" fill="#fff" />
<rect x="167" y="124" width="1" height="1" fill="#fff" />
<rect x="170" y="124" width="1" height="1" fill="#fff" />
<rect x="173" y="124" width="1" height="1" fill="#fff" />
<rect x="176" y="124" width="1" height="1" fill="#fff" />
<rect x="179" y="124" width="1" height="1" fill="#fff" />
<rect x="182" y="124" width="1" height="1" fill="#fff" />
<rect x="185" y="124" width="1" height="1" fill="#fff" />
<rect x="188" y="124" width="1" height="1" fill="#fff" />
<rect x="191" y="124" width="1" height="1" fill="#fff" />
<rect x="194" y="124" width="1" height="1" fill="#fff" />
<rect x="197" y="124" width="1" height="1" fill="#fff" />
<rect x="200" y="124" width="1" height="1" fill="#fff" />
<rect x="203" y="124" width="1" height="1" fill="#fff" />
<rect x="206" y="124" width="1" height="1" fill="#fff" />
<rect x="209" y="124" width="1" height="1" fill="#fff" />
<rect x="212" y="124" width="1" height="1" fill="#fff" />
<rect x="215" y="124" width="1" height="1" fill="#fff" />
<rect x="218" y="124" width="1" height="1" fill="#fff" />
<rect x="221" y="124" width="1" height="1" fill="#fff" />
<rect x="224" y="124" width="1" height="1" fill="#fff" />
<rect x="227" y="124" width="1" height="1" fill="#fff" />
<rect x="230" y="124" width="1" height="1" fill="#fff" />
<rect x="233" y="124" width="1" height="1" fill="#fff" />
<rect x="236" y="124" width="1" height="1" fill="#fff" />
<rect x="239" y="124" width="1" height="1" fill="#fff" />
<rect x="242" y="124" width="1" height="1" fill="#fff" />
<rect x="245" y="124" width="1" height="1" fill="#fff" />
<rect x="248" y="124" width="1" height="1" fill="#fff" />
<rect x="251" y="124" width="1" height="1" fill="#fff" />
<rect x="254" y="124" width="1" height="1" fill="#fff" />
<rect x="257" y="124" width="1" height="1" fill="#fff" />
<rect x="260" y="124" width="1" height="1" fill="#fff" />
<rect x="263" y="124" width="1" height="1" fill="#fff" />
<rect x="266" y="124" width="1" height="1" fill="#fff" />
<rect x="269" y="124" width="1" height="1" fill="#fff" />
<rect x="272" y="124" width="1" height="1" fill="#fff" />
<rect x="275" y="124" width="1" height="1" fill="#fff" />
<rect x="278" y="124" width="1" height="1" fill="#fff" />
<rect x="281" y="124" width="1" height="1" fill="#fff" />
<rect x="284" y="124" width="1" height="1" fill="#fff" />
<rect x="287" y="124" width="1" height="1" fill="#fff" />
<rect x="118" y="126" width="4" height="6" fill="#fff" />
<rect x="119" y="134" width="2" height="4" fill="#fff" />
<rect x="124" y="126" width="4" height="6" fill="#fff" />
<rect x="125" y="134" width="2" height="4" fill="#fff" />
<rect x="130" y="126" width="4" height="6" fill="#fff" />
<rect x="131" y="134" width="2" height="4" fill="#fff" />
<rect x="136" y="126" width="4" height="6" fill="#fff" />
<rect x="137" y="134" width="2" height="4" fill="#fff" />
<rect x="142" y="126" width="4" height="6" fill="#fff" />
<rect x="143" y="134" width="2" height="4" fill="#fff" />
<rect x="144" y="125" width="1" height="13" fill="#fff" />
<rect x="148" y="126" width="4" height="6" fill="#fff" />
<rect x="149" y="134" width="2" height="4" fill="#fff" />
<rect x="154" y="126" width="4" height="6" fill="#fff" />
<rect x="155" y="134" width="2" height="4" fill="#fff" />
<rect x="159" y="126" width="4" height="6" fill="#fff" />
<rect x="160" y="134" width="2" height="4" fill="#fff" />
<rect x="165" y="126" width="4" height="6" fill="#fff" />
<rect x="166" y="134" width="2" height="4" fill="#fff" />
<rect x="171" y="126" width="4" height="6" fill="#fff" />
<rect x="172" y="134" width="2" height="4" fill="#fff" />
<rect x="177" y="126" width="4" height="6" fill="#fff" />
<rect x="178" y="134" width="2" height="4" fill="#fff" />
<rect x="183" y="126" width="4" height="6" fill="#fff" />
<rect x="184" y="134" width="2" height="4" fill="#fff" />
<rect x="189" y="126" width="4" height="6" fill="#fff" />
<rect x="190" y="134" width="2" height="4" fill="#fff" />
<rect x="195" y="126" width="4" height="6" fill="#fff" />
<rect x="196" y="134" width="2" height="4" fill="#fff" />
<rect x="201" y="126" width="4" height="6" fill="#fff" />
<rect x="202" y="134" width="2" height="4" fill="#fff" />
<rect x="207" y="126" width="4" height="6" fill="#fff" />
<rect x="208" y="134" width="2" height="4" fill="#fff" />
<rect x="213" y="126" width="4" height="6" fill="#fff" />
<rect x="214" y="134" width="2" height="4" fill="#fff" />
<rect x="219" y="126" width="4" height="6" fill="#fff" />
<rect x="220" y="134" width="2" height="4" fill="#fff" />
<rect x="225" y="126" width="4" height="6" fill="#fff" />
<rect x="226" y="134" width="2" height="4" fill="#fff" />
<rect x="230" y="126" width="4" height="6" fill="#fff" />
<rect x="231" y="134" width="2" height="4" fill="#fff" />
<rect x="236" y="126" width="4" height="6" fill="#fff" />
<rect x="237" y="134" width="2" height="4" fill="#fff" />
<rect x="242" y="126" width="4" height="6" fill="#fff" />
<rect x="243" y="134" width="2" height="4" fill="#fff" />
<rect x="248" y="126" width="4" height="6" fill="#fff" />
<rect x="249" y="134" width="2" height="4" fill="#fff" />
<rect x="250" y="125" width="1" height="13" fill="#fff" />
<rect x="254" y="126" width="4" height="6" fill="#fff" />
<rect x="255" y="134" width="2" height="4" fill="#fff" />
<rect x="256" y="125" width="1" height="13" fill="#fff" />
<rect x="260" y="126" width="4" height="6" fill="#fff" />
<rect x="261" y="134" width="2" height="4" fill="#fff" />
<rect x="266" y="126" width="4" height="6" fill="#fff" />
<rect x="267" y="134" width="2" height="4" fill="#fff" />
<rect x="272" y="126" width="4" height="6" fill="#fff" />
<rect x="273" y="134" width="2" height="4" fill="#fff" />
<rect x="278" y="126" width="4" height="6" fill="#fff" />
<rect x="279" y="134" width="2" height="4" fill="#fff" />
<rect x="284" y="126" width="4" height="6" fill="#fff" />
<rect x="285" y="134" width="2" height="4" fill="#fff" />
<rect x="115" y="142" width="175" height="15" fill="#000" />
<rect x="116" y="142" width="1" height="1" fill="#fff" />
<rect x="119" y="142" width="1" height="1" fill="#fff" />
<rect x="122" y="142" width="1" height="1" fill="#fff" />
<rect x="125" y="142" width="1" height="1" fill="#fff" />
<rect x="128" y="142" width="1" height="1" fill="#fff" />
<rect x="131" y="142" width="1" height="1" fill="#fff" />
<rect x="134" y="142" width="1" height="1" fill="#fff" />
<rect x="137" y="142" width="1" height="1" fill="#fff" />
<rect x="140" y="142" width="1" height="1" fill="#fff" />
<rect x="143" y="142" width="1" height="1" fill="#fff" />
<rect x="146" y="142" width="1" height="1" fill="#fff" />
<rect x="149" y="142" width="1" height="1" fill="#fff" />
<rect x="152" y="142" width="1" height="1" fill="#fff" />
<rect x="155" y="142" width="1" height="1" fill="#fff" />
<rect x="158" y="142" width="1" height="1" fill="#fff" />
<rect x="161" y="142" width="1" height="1" fill="#fff" />
<rect x="164" y="142" width="1" height="1" fill="#fff" />
<rect x="167" y="142" width="1" height="1" fill="#fff" />
<rect x="170" y="142" width="1" height="1" fill="#fff" />
<rect x="173" y="142" width="1" height="1" fill="#fff" />
<rect x="176" y="142" width="1" height="1" fill="#fff" />
<rect x="179" y="142" width="1" height="1" fill="#fff" />
<rect x="182" y="142" width="1" height="1" fill="#fff" />
<rect x="185" y="142" width="1" height="1" fill="#fff" />
<rect x="188" y="142" width="1" height="1" fill="#fff" />
<rect x="191" y="142" width="1" height="1" fill="#fff" />
<rect x="194" y="142" width="1" height="1" fill="#fff" />
<rect x="197" y="142" width="1" height="1" fill="#fff" />
<rect x="200" y="142" width="1" height="1" fill="#fff" />
<rect x="203" y="142" width="1" height="1" fill="#fff" />
<rect x="206" y="142" width="1" height="1" fill="#fff" />
<rect x="209" y="142" width="1" height="1" fill="#fff" />
<rect x="212" y="142" width="1" height="1" fill="#fff" />
<rect x="215" y="142" width="1" height="1" fill="#fff" />
<rect x="218" y="142" width="1" height="1" fill="#fff" />
<rect x="221" y="142" width="1" height="1" fill="#fff" />
<rect x="224" y="142" width="1" height="1" fill="#fff" />
<rect x="227" y="142" width="1" height="1" fill="#fff" />
<rect x="230" y="142" width="1" height="1" fill="#fff" />
<rect x="233" y="142" width="1" height="1" fill="#fff" />
<rect x="236" y="142" width="1" height="1" fill="#fff" />
<rect x="239" y="142" width="1" height="1" fill="#fff" />
<rect x="242" y="142" width="1" height="1" fill="#fff" />
<rect x="245" y="142" width="1" height="1" fill="#fff" />
<rect x="248" y="142" width="1" height="1" fill="#fff" />
<rect x="251" y="142" width="1" height="1" fill="#fff" />
<rect x="254" y="142" width="1" height="1" fill="#fff" />
<rect x="257" y="142" width="1" height="1" fill="#fff" />
<rect x="260" y="142" width="1" height="1" fill="#fff" />
<rect x="263" y="142" width="1" height="1" fill="#fff" />
<rect x="266" y="142" width="1" height="1" fill="#fff" />
<rect x="269" y="142" width="1" height="1" fill="#fff" />
<rect x="272" y="142" width="1" height="1" fill="#fff" />
<rect x="275" y="142" width="1" height="1" fill="#fff" />
<rect x="278" y="142" width="1" height="1" fill="#fff" />
<rect x="281" y="142" width="1" height="1" fill="#fff" />
<rect x="284" y="142" width="1" height="1" fill="#fff" />
<rect x="287" y="142" width="1" height="1" fill="#fff" />
<rect x="118" y="144" width="4" height="6" fill="#fff" />
<rect x="119" y="152" width="2" height="4" fill="#fff" />
<rect x="124" y="144" width="4" height="6" fill="#fff" />
<rect x="125" y="152" width="2" height="4" fill="#fff" />
<rect x="130" y="144" width="4" height="6" fill="#fff" />
<rect x="131" y="152" width="2" height="4" fill="#fff" />
<rect x="136" y="144" width="4" height="6" fill="#fff" />
<rect x="137" y="152" width="2" height="4" fill="#fff" />
<rect x="142" y="144" width="4" height="6" fill="#fff" />
<rect x="143" y="152" width="2" height="4" fill="#fff" />
<rect x="144" y="143" width="1" height="13" fill="#fff" />
<rect x="148" y="144" width="4" height="6" fill="#fff" />
<rect x="149" y="152" width="2" height="4" fill="#fff" />
<rect x="154" y="144" width="4" height="6" fill="#fff" />
<rect x="155" y="152" width="2" height="4" fill="#fff" />
<rect x="159" y="144" width="4" height="6" fill="#fff" />
<rect x="160" y="152" width="2" height="4" fill="#fff" />
<rect x="165" y="144" width="4" height="6" fill="#fff" />
<rect x="166" y="152" width="2" height="4" fill="#fff" />
<rect x="171" y="144" width="4" height="6" fill="#fff" />
<rect x="172" y="152" width="2" height="4" fill="#fff" />
<rect x="177" y="144" width="4" height="6" fill="#fff" />
<rect x="178" y="152" width="2" height="4" fill="#fff" />
<rect x="183" y="144" width="4" height="6" fill="#fff" />
<rect x="184" y="152" width="2" height="4" fill="#fff" />
<rect x="189" y="144" width="4" height="6" fill="#fff" />
<rect x="190" y="152" width="2" height="4" fill="#fff" />
<rect x="195" y="144" width="4" height="6" fill="#fff" />
<rect x="196" y="152" width="2" height="4" fill="#fff" />
<rect x="201" y="144" width="4" height="6" fill="#fff" />
<rect x="202" y="152" width="2" height="4" fill="#fff" />
<rect x="207" y="144" width="4" height="6" fill="#fff" />
<rect x="208" y="152" width="2" height="4" fill="#fff" />
<rect x="213" y="144" width="4" height="6" fill="#fff" />
<rect x="214" y="152" width="2" height="4" fill="#fff" />
<rect x="219" y="144" width="4" height="6" fill="#fff" />
<rect x="220" y="152" width="2" height="4" fill="#fff" />
<rect x="225" y="144" width="4" height="6" fill="#fff" />
<rect x="226" y="152" width="2" height="4" fill="#fff" />
<rect x="230" y="144" width="4" height="6" fill="#fff" />
<rect x="231" y="152" width="2" height="4" fill="#fff" />
<rect x="236" y="144" width="4" height="6" fill="#fff" />
<rect x="237" y="152" width="2" height="4" fill="#fff" />
<rect x="242" y="144" width="4" height="6" fill="#fff" />
<rect x="243" y="152" width="2" height="4" fill="#fff" />
<rect x="248" y="144" width="4" height="6" fill="#fff" />
<rect x="249" y="152" width="2" height="4" fill="#fff" />
<rect x="250" y="143" width="1" height="13" fill="#fff" />
<rect x="254" y="144" width="4" height="6" fill="#fff" />
<rect x="255" y="152" width="2" height="4" fill="#fff" />
<rect x="256" y="143" width="1" height="13" fill="#fff" />
<rect x="260" y="144" width="4" height="6" fill="#fff" />
<rect x="261" y="152" width="2" height="4" fill="#fff" />
<rect x="266" y="144" width="4" height="6" fill="#fff" />
<rect x="267" y="152" width="2" height="4" fill="#fff" />
<rect x="272" y="144" width="4" height="6" fill="#fff" />
<rect x="273" y="152" width="2" height="4" fill="#fff" />
<rect x="278" y="144" width="4" height="6" fill="#fff" />
<rect x="279" y="152" width="2" height="4" fill="#fff" />
<rect x="284" y="144" width="4" height="6" fill="#fff" />
<rect x="285" y="152" width="2" height="4" fill="#fff" />
<rect x="115" y="166" width="175" height="15" fill="#000" />
<rect x="116" y="166" width="1" height="1" fill="#fff" />
<rect x="119" y="166" width="1" height="1" fill="#fff" />
<rect x="122" y="166" width="1" height="1" fill="#fff" />
<rect x="125" y="166" width="1" height="1" fill="#fff" />
<rect x="128" y="166" width="1" height="1" fill="#fff" />
<rect x="131" y="166" width="1" height="1" fill="#fff" />
<rect x="134" y="166" width="1" height="1" fill="#fff" />
<rect x="137" y="166" width="1" height="1" fill="#fff" />
<rect x="140" y="166" width="1" height="1" fill="#fff" />
<rect x="143" y="166" width="1" height="1" fill="#fff" />
<rect x="146" y="166" width="1" height="1" fill="#fff" />
<rect x="149" y="166" width="1" height="1" fill="#fff" />
<rect x="152" y="166" width="1" height="1" fill="#fff" />
<rect x="155" y="166" width="1" height="1" fill="#fff" />
<rect x="158" y="166" width="1" height="1" fill="#fff" />
<rect x="161" y="166" width="1" height="1" fill="#fff" />
<rect x="164" y="166" width="1" height="1" fill="#fff" />
<rect x="167" y="166" width="1" height="1" fill="#fff" />
<rect x="170" y="166" width="1" height="1" fill="#fff" />
<rect x="173" y="166" width="1" height="1" fill="#fff" />
<rect x="176" y="166" width="1" height="1" fill="#fff" />
<rect x="179" y="166" width="1" height="1" fill="#fff" />
<rect x="182" y="166" width="1" height="1" fill="#fff" />
<rect x="185" y="166" width="1" height="1" fill="#fff" />
<rect x="188" y="166" width="1" height="1" fill="#fff" />
<rect x="191" y="166" width="1" height="1" fill="#fff" />
<rect x="194" y="166" width="1" height="1" fill="#fff" />
<rect x="197" y="166" width="1" height="1" fill="#fff" />
<rect x="200" y="166" width="1" height="1" fill="#fff" />
<rect x="203" y="166" width="1" height="1" fill="#fff" />
<rect x="206" y="166" width="1" height="1" fill="#fff" />
<rect x="209" y="166" width="1" height="1" fill="#fff" />
<rect x="212" y="166" width="1" height="1" fill="#fff" />
<rect x="215" y="166" width="1" height="1" fill="#fff" />
<rect x="218" y="166" width="1" height="1" fill="#fff" />
<rect x="221" y="166" width="1" height="1" fill="#fff" />
<rect x="224" y="166" width="1" height="1" fill="#fff" />
<rect x="227" y="166" width="1" height="1" fill="#fff" />
<rect x="230" y="166" width="1" height="1" fill="#fff" />
<rect x="233" y="166" width="1" height="1" fill="#fff" />
<rect x="236" y="166" width="1" height="1" fill="#fff" />
<rect x="239" y="166" width="1" height="1" fill="#fff" />
<rect x="242" y="166" width="1" height="1" fill="#fff" />
<rect x="245" y="166" width="1" height="1" fill="#fff" />
<rect x="248" y="166" width="1" height="1" fill="#fff" />
<rect x="251" y="166" width="1" height="1" fill="#fff" />
<rect x="254" y="166" width="1" height="1" fill="#fff" />
<rect x="257" y="166" width="1" height="1" fill="#fff" />
<rect x="260" y="166" width="1" height="1" fill="#fff" />
<rect x="263" y="166" width="1" height="1" fill="#fff" />
<rect x="266" y="166" width="1" height="1" fill="#fff" />
<rect x="269" y="166" width="1" height="1" fill="#fff" />
<rect x="272" y="166" width="1" height="1" fill="#fff" />
<rect x="275" y="166" width="1" height="1" fill="#fff" />
<rect x="278" y="166" width="1" height="1" fill="#fff" />
<rect x="281" y="166" width="1" height="1" fill="#fff" />
<rect x="284" y="166" width="1" height="1" fill="#fff" />
<rect x="287" y="166" width="1" height="1" fill="#fff" />
<rect x="118" y="168" width="4" height="6" fill="#fff" />
<rect x="119" y="176" width="2" height="4" fill="#fff" />
<rect x="124" y="168" width="4" height="6" fill="#fff" />
<rect x="125" y="176" width="2" height="4" fill="#fff" />
<rect x="130" y="168" width="4" height="6" fill="#fff" />
<rect x="131" y="176" width="2" height="4" fill="#fff" />
<rect x="136" y="168" width="4" height="6" fill="#fff" />
<rect x="137" y="176" width="2" height="4" fill="#fff" />
<rect x="142" y="168" width="4" height="6" fill="#fff" />
<rect x="143" y="176" width="2" height="4" fill="#fff" />
<rect x="144" y="167" width="1" height="13" fill="#fff" />
<rect x="148" y="168" width="4" height="6" fill="#fff" />
<rect x="149" y="176" width="2" height="4" fill="#fff" />
<rect x="154" y="168" width="4" height="6" fill="#fff" />
<rect x="155" y="176" width="2" height="4" fill="#fff" />
<rect x="159" y="168" width="4" height="6" fill="#fff" />
<rect x="160" y="176" width="2" height="4" fill="#fff" />
<rect x="165" y="168" width="4" height="6" fill="#fff" />
<rect x="166" y="176" width="2" height="4" fill="#fff" />
<rect x="171" y="168" width="4" height="6" fill="#fff" />
<rect x="172" y="176" width="2" height="4" fill="#fff" />
<rect x="177" y="168" width="4" height="6" fill="#fff" />
<rect x="178" y="176" width="2" height="4" fill="#fff" />
<rect x="183" y="168" width="4" height="6" fill="#fff" />
<rect x="184" y="176" width="2" height="4" fill="#fff" />
<rect x="189" y="168" width="4" height="6" fill="#fff" />
<rect x="190" y="176" width="2" height="4" fill="#fff" />
<rect x="195" y="168" width="4" height="6" fill="#fff" />
<rect x="196" y="176" width="2" height="4" fill="#fff" />
<rect x="201" y="168" width="4" height="6" fill="#fff" />
<rect x="202" y="176" width="2" height="4" fill="#fff" />
<rect x="207" y="168" width="4" height="6" fill="#fff" />
<rect x="208" y="176" width="2" height="4" fill="#fff" />
<rect x="213" y="168" width="4" height="6" fill="#fff" />
<rect x="214" y="176" width="2" height="4" fill="#fff" />
<rect x="219" y="168" width="4" height="6" fill="#fff" />
<rect x="220" y="176" width="2" height="4" fill="#fff" />
<rect x="225" y="168" width="4" height="6" fill="#fff" />
<rect x="226" y="176" width="2" height="4" fill="#fff" />
<rect x="230" y="168" width="4" height="6" fill="#fff" />
<rect x="231" y="176" width="2" height="4" fill="#fff" />
<rect x="236" y="168" width="4" height="6" fill="#fff" />
<rect x="237" y="176" width="2" height="4" fill="#fff" />
<rect x="242" y="168" width="4" height="6" fill="#fff" />
<rect x="243" y="176" width="2" height="4" fill="#fff" />
<rect x="248" y="168" width="4" height="6" fill="#fff" />
<rect x="249" y="176" width="2" height="4" fill="#fff" />
<rect x="250" y="167" width="1" height="13" fill="#fff" />
<rect x="254" y="168" width="4" height="6" fill="#fff" />
<rect x="255" y="176" width="2" height="4" fill="#fff" />
<rect x="256" y="167" width="1" height="13" fill="#fff" />
<rect x="260" y="168" width="4" height="6" fill="#fff" />
<rect x="261" y="176" width="2" height="4" fill="#fff" />
<rect x="266" y="168" width="4" height="6" fill="#fff" />
<rect x="267" y="176" width="2" height="4" fill="#fff" />
<rect x="272" y="168" width="4" height="6" fill="#fff" />
<rect x="273" y="176" width="2" height="4" fill="#fff" />
<rect x="278" y="168" width="4" height="6" fill="#fff" />
<rect x="279" y="176" width="2" height="4" fill="#fff" />
<rect x="284" y="168" width="4" height="6" fill="#fff" />
<rect x="285" y="176" width="2" height="4" fill="#fff" />
<rect x="97" y="140" width="218" height="1" fill="#000" />
<rect x="97" y="116" width="15" height="8" fill="#000" />
<rect x="98" y="117" width="13" height="6" fill="#fff" />
<rect x="115" y="116" width="31" height="8" fill="#000" />
<rect x="116" y="117" width="29" height="6" fill="#fff" />
<rect x="150" y="116" width="32" height="8" fill="#000" />
<rect x="151" y="117" width="30" height="6" fill="#fff" />
<rect x="188" y="116" width="31" height="8" fill="#000" />
<rect x="189" y="117" width="29" height="6" fill="#fff" />
<rect x="225" y="116" width="31" height="8" fill="#000" />
<rect x="226" y="117" width="29" height="6" fill="#fff" />
<rect x="261" y="116" width="31" height="8" fill="#000" />
<rect x="262" y="117" width="29" height="6" fill="#fff" />
<rect x="294" y="116" width="16" height="8" fill="#000" />
<rect x="295" y="117" width="14" height="6" fill="#fff" />
<rect x="97" y="158" width="15" height="8" fill="#000" />
<rect x="98" y="159" width="13" height="6" fill="#fff" />
<rect x="115" y="158" width="31" height="8" fill="#000" />
<rect x="116" y="159" width="29" height="6" fill="#fff" />
<rect x="150" y="158" width="32" height="8" fill="#000" />
<rect x="151" y="159" width="30" height="6" fill="#fff" />
<rect x="188" y="158" width="31" height="8" fill="#000" />
<rect x="189" y="159" width="29" height="6" fill="#fff" />
<rect x="225" y="158" width="31" height="8" fill="#000" />
<rect x="226" y="159" width="29" height="6" fill="#fff" />
<rect x="261" y="158" width="31" height="8" fill="#000" />
<rect x="262" y="159" width="29" height="6" fill="#fff" />
<rect x="294" y="158" width="16" height="8" fill="#000" />
<rect x="295" y="159" width="14" height="6" fill="#fff" />
<rect x="101" y="101" width="10" height="1" fill="#000" />
<rect x="110" y="101" width="1" height="10" fill="#000" />
<rect x="101" y="110" width="3" height="1" fill="#000" />
<rect x="103" y="108" width="1" height="3" fill="#000" />
<rect x="103" y="108" width="5" height="1" fill="#000" />
<rect x="107" y="108" width="1" height="8" fill="#000" />
<rect x="107" y="110" width="4" height="1" fill="#000" />
<rect x="97" y="115" width="11" height="1" fill="#000" />
<rect x="294" y="101" width="10" height="1" fill="#000" />
<rect x="294" y="101" width="1" height="10" fill="#000" />
<rect x="294" y="110" width="4" height="1" fill="#000" />
<rect x="297" y="108" width="1" height="8" fill="#000" />
<rect x="297" y="108" width="5" height="1" fill="#000" />
<rect x="301" y="108" width="1" height="3" fill="#000" />
<rect x="301" y="110" width="3" height="1" fill="#000" />
<rect x="297" y="115" width="7" height="1" fill="#000" />
<rect x="101" y="125" width="10" height="1" fill="#000" />
<rect x="110" y="125" width="1" height="10" fill="#000" />
<rect x="101" y="134" width="3" height="1" fill="#000" />
<rect x="103" y="132" width="1" height="3" fill="#000" />
<rect x="103" y="132" width="5" height="1" fill="#000" />
<rect x="107" y="132" width="1" height="8" fill="#000" />
<rect x="107" y="134" width="4" height="1" fill="#000" />
<rect x="97" y="139" width="11" height="1" fill="#000" />
<rect x="294" y="125" width="10" height="1" fill="#000" />
<rect x="294" y="125" width="1" height="10" fill="#000" />
<rect x="294" y="134" width="4" height="1" fill="#000" />
<rect x="297" y="132" width="1" height="8" fill="#000" />
<rect x="297" y="132" width="5" height="1" fill="#000" />
<rect x="301" y="132" width="1" height="3" fill="#000" />
<rect x="301" y="134" width="3" height="1" fill="#000" />
<rect x="297" y="139" width="7" height="1" fill="#000" />
<rect x="101" y="143" width="10" height="1" fill="#000" />
<rect x="110" y="143" width="1" height="10" fill="#000" />
<rect x="101" y="152" width="3" height="1" fill="#000" />
<rect x="103" y="150" width="1" height="3" fill="#000" />
<rect x="103" y="150" width="5" height="1" fill="#000" />
<rect x="107" y="150" width="1" height="8" fill="#000" />
<rect x="107" y="152" width="4" height="1" fill="#000" />
<rect x="97" y="157" width="11" height="1" fill="#000" />
<rect x="294" y="143" width="10" height="1" fill="#000" />
<rect x="294" y="143" width="1" height="10" fill="#000" />
<rect x="294" y="152" width="4" height="1" fill="#000" />
<rect x="297" y="150" width="1" height="8" fill="#000" />
<rect x="297" y="150" width="5" height="1" fill="#000" />
<rect x="301" y="150" width="1" height="3" fill="#000" />
<rect x="301" y="152" width="3" height="1" fill="#000" />
<rect x="297" y="157" width="7" height="1" fill="#000" />
<rect x="101" y="167" width="10" height="1" fill="#000" />
<rect x="110" y="167" width="1" height="10" fill="#000" />
<rect x="101" y="176" width="3" height="1" fill="#000" />
<rect x="103" y="174" width="1" height="3" fill="#000" />
<rect x="103" y="174" width="5" height="1" fill="#000" />
<rect x="107" y="174" width="1" height="8" fill="#000" />
<rect x="107" y="176" width="4" height="1" fill="#000" />
<rect x="97" y="181" width="11" height="1" fill="#000" />
<rect x="294" y="167" width="10" height="1" fill="#000" />
<rect x="294" y="167" width="1" height="10" fill="#000" />
<rect x="294" y="176" width="4" height="1" fill="#000" />
<rect x="297" y="174" width="1" height="8" fill="#000" />
<rect x="297" y="174" width="5" height="1" fill="#000" />
<rect x="301" y="174" width="1" height="3" fill="#000" />
<rect x="301" y="176" width="3" height="1" fill="#000" />
<rect x="297" y="181" width="7" height="1" fill="#000" />
<rect x="89" y="101" width="8" height="1" fill="#000" />
<rect x="89" y="108" width="8" height="1" fill="#000" />
<rect x="89" y="116" width="8" height="1" fill="#000" />
<rect x="89" y="127" width="8" height="1" fill="#000" />
<rect x="89" y="133" width="8" height="1" fill="#000" />
<rect x="89" y="141" width="8" height="1" fill="#000" />
<rect x="89" y="143" width="8" height="1" fill="#000" />
<rect x="89" y="150" width="8" height="1" fill="#000" />
<rect x="89" y="158" width="8" height="1" fill="#000" />
<rect x="89" y="168" width="8" height="1" fill="#000" />
<rect x="89" y="175" width="8" height="1" fill="#000" />
<rect x="308" y="101" width="6" height="1" fill="#000" />
<rect x="308" y="108" width="6" height="1" fill="#000" />
<rect x="308" y="116" width="6" height="1" fill="#000" />
<rect x="308" y="141" width="6" height="1" fill="#000" />
<rect x="308" y="143" width="6" height="1" fill="#000" />
<rect x="308" y="150" width="6" height="1" fill="#000" />
<rect x="308" y="158" width="6" height="1" fill="#000" />
<rect x="308" y="126" width="8" height="8" fill="#000" />
<rect x="309" y="127" width="6" height="6" fill="#fff" />
<rect x="308" y="168" width="8" height="8" fill="#000" />
<rect x="309" y="169" width="6" height="6" fill="#fff" />
<rect x="92" y="93" width="223" height="5" fill="#fff" />
<rect x="353" y="139" width="88" height="41" fill="#000" />
<rect x="439" y="153" width="2" height="13" fill="#fff" />
<path d="M441 153 h-2 q-1 0 -1 2 v9 q0 2 1 2 h2z" fill="#fff" />
<rect x="355" y="177" width="3" height="1" fill="#fff" />
<rect x="361" y="177" width="3" height="1" fill="#fff" />
<rect x="368" y="177" width="3" height="1" fill="#fff" />
<rect x="374" y="177" width="3" height="1" fill="#fff" />
<rect x="380" y="177" width="3" height="1" fill="#fff" />
<rect x="386" y="177" width="3" height="1" fill="#fff" />
<rect x="393" y="177" width="3" height="1" fill="#fff" />
<rect x="399" y="177" width="3" height="1" fill="#fff" />
<rect x="405" y="177" width="3" height="1" fill="#fff" />
<rect x="412" y="177" width="3" height="1" fill="#fff" />
<rect x="418" y="177" width="3" height="1" fill="#fff" />
<rect x="424" y="177" width="3" height="1" fill="#fff" />
<rect x="430" y="177" width="3" height="1" fill="#fff" />
<rect x="437" y="177" width="3" height="1" fill="#fff" />
<rect x="377" y="152" width="40" height="14" fill="#fff" />
<path d="M382.50 154.50H386.50L387.50 155.50V157.50L386.50 158.50H382.50M386.50 158.50L387.50 159.50V162.50L386.50 163.50H382.50V154.50M391.50 154.50V163.50M397.50 154.50H400.50L401.50 155.50V162.50L400.50 163.50H397.50L396.50 162.50V155.50ZM410.50 155.50L409.50 154.50H406.50L405.50 155.50V157.50L406.50 158.50H409.50L410.50 159.50V162.50L409.50 163.50H406.50L405.50 162.50" fill="none" stroke="#000" stroke-width="1" stroke-linecap="square" stroke-linejoin="miter"/>
<rect x="280" y="280" width="60" height="66" fill="#000" />
<rect x="277" y="286" width="3" height="56" fill="#000" />
<rect x="340" y="284" width="3" height="56" fill="#000" />
<rect x="288" y="280" width="1" height="2" fill="#fff" />
<rect x="291" y="280" width="1" height="2" fill="#fff" />
<rect x="294" y="280" width="1" height="2" fill="#fff" />
<rect x="297" y="280" width="1" height="2" fill="#fff" />
<rect x="308" y="280" width="1" height="2" fill="#fff" />
<rect x="311" y="280" width="1" height="2" fill="#fff" />
<rect x="314" y="280" width="1" height="2" fill="#fff" />
<rect x="317" y="280" width="1" height="2" fill="#fff" />
<rect x="328" y="280" width="1" height="2" fill="#fff" />
<rect x="331" y="280" width="1" height="2" fill="#fff" />
<rect x="334" y="280" width="1" height="2" fill="#fff" />
<rect x="287" y="344" width="1" height="2" fill="#fff" />
<rect x="290" y="344" width="1" height="2" fill="#fff" />
<rect x="293" y="344" width="1" height="2" fill="#fff" />
<rect x="303" y="344" width="1" height="2" fill="#fff" />
<rect x="306" y="344" width="1" height="2" fill="#fff" />
<rect x="309" y="344" width="1" height="2" fill="#fff" />
<rect x="323" y="344" width="1" height="2" fill="#fff" />
<rect x="326" y="344" width="1" height="2" fill="#fff" />
<rect x="329" y="344" width="1" height="2" fill="#fff" />
<rect x="277" y="291" width="2" height="1" fill="#fff" />
<rect x="277" y="294" width="2" height="1" fill="#fff" />
<rect x="277" y="297" width="2" height="1" fill="#fff" />
<rect x="277" y="311" width="2" height="1" fill="#fff" />
<rect x="277" y="314" width="2" height="1" fill="#fff" />
<rect x="277" y="325" width="2" height="1" fill="#fff" />
<rect x="277" y="328" width="2" height="1" fill="#fff" />
<rect x="277" y="331" width="2" height="1" fill="#fff" />
<rect x="277" y="334" width="2" height="1" fill="#fff" />
<rect x="341" y="290" width="2" height="1" fill="#fff" />
<rect x="341" y="293" width="2" height="1" fill="#fff" />
<rect x="341" y="306" width="2" height="1" fill="#fff" />
<rect x="341" y="309" width="2" height="1" fill="#fff" />
<rect x="341" y="320" width="2" height="1" fill="#fff" />
<rect x="341" y="323" width="2" height="1" fill="#fff" />
<rect x="341" y="326" width="2" height="1" fill="#fff" />
<rect x="341" y="336" width="2" height="1" fill="#fff" />
<circle cx="333.5" cy="290" r="2.2" fill="#fff" shape-rendering="auto"/>
<rect x="360" y="256" width="60" height="66" fill="#000" />
<rect x="357" y="262" width="3" height="56" fill="#000" />
<rect x="420" y="260" width="3" height="56" fill="#000" />
<rect x="368" y="256" width="1" height="2" fill="#fff" />
<rect x="371" y="256" width="1" height="2" fill="#fff" />
<rect x="374" y="256" width="1" height="2" fill="#fff" />
<rect x="377" y="256" width="1" height="2" fill="#fff" />
<rect x="388" y="256" width="1" height="2" fill="#fff" />
<rect x="391" y="256" width="1" height="2" fill="#fff" />
<rect x="394" y="256" width="1" height="2" fill="#fff" />
<rect x="397" y="256" width="1" height="2" fill="#fff" />
<rect x="408" y="256" width="1" height="2" fill="#fff" />
<rect x="411" y="256" width="1" height="2" fill="#fff" />
<rect x="414" y="256" width="1" height="2" fill="#fff" />
<rect x="367" y="320" width="1" height="2" fill="#fff" />
<rect x="370" y="320" width="1" height="2" fill="#fff" />
<rect x="373" y="320" width="1" height="2" fill="#fff" />
<rect x="383" y="320" width="1" height="2" fill="#fff" />
<rect x="386" y="320" width="1" height="2" fill="#fff" />
<rect x="389" y="320" width="1" height="2" fill="#fff" />
<rect x="403" y="320" width="1" height="2" fill="#fff" />
<rect x="406" y="320" width="1" height="2" fill="#fff" />
<rect x="409" y="320" width="1" height="2" fill="#fff" />
<rect x="357" y="267" width="2" height="1" fill="#fff" />
<rect x="357" y="270" width="2" height="1" fill="#fff" />
<rect x="357" y="273" width="2" height="1" fill="#fff" />
<rect x="357" y="287" width="2" height="1" fill="#fff" />
<rect x="357" y="290" width="2" height="1" fill="#fff" />
<rect x="357" y="301" width="2" height="1" fill="#fff" />
<rect x="357" y="304" width="2" height="1" fill="#fff" />
<rect x="357" y="307" width="2" height="1" fill="#fff" />
<rect x="357" y="310" width="2" height="1" fill="#fff" />
<rect x="421" y="266" width="2" height="1" fill="#fff" />
<rect x="421" y="269" width="2" height="1" fill="#fff" />
<rect x="421" y="282" width="2" height="1" fill="#fff" />
<rect x="421" y="285" width="2" height="1" fill="#fff" />
<rect x="421" y="296" width="2" height="1" fill="#fff" />
<rect x="421" y="299" width="2" height="1" fill="#fff" />
<rect x="421" y="302" width="2" height="1" fill="#fff" />
<rect x="421" y="312" width="2" height="1" fill="#fff" />
<circle cx="413.5" cy="266" r="2.2" fill="#fff" shape-rendering="auto"/>
<rect x="349" y="344" width="51" height="29" fill="#000" />
<circle cx="353.5" cy="349" r="2.5" fill="#fff" shape-rendering="auto"/>
<circle cx="394.5" cy="349" r="2.5" fill="#fff" shape-rendering="auto"/>
<circle cx="353.5" cy="368.5" r="2.5" fill="#fff" shape-rendering="auto"/>
<circle cx="394.5" cy="368.5" r="2.5" fill="#fff" shape-rendering="auto"/>
<rect x="353" y="356" width="18" height="6" fill="#fff" />
<rect x="377" y="356" width="16" height="6" fill="#fff" />
<circle cx="400" cy="358.5" r="2.5" fill="#fff" shape-rendering="auto"/>
<path d="M323 442 H392 V516 H317 V448 Z" fill="#000" />
<circle cx="325.5" cy="449.2" r="3.2" fill="#fff" shape-rendering="auto"/>
<rect x="340" y="472" width="29" height="14" fill="#fff" />
<path d="M347.50 475.50L346.50 474.50H343.50L342.50 475.50V482.50L343.50 483.50H346.50L347.50 482.50M352.50 483.50V474.50H355.50L356.50 475.50V478.50L355.50 479.50H352.50M361.50 474.50V482.50L362.50 483.50H365.50L366.50 482.50V474.50" fill="none" stroke="#000" stroke-width="1" stroke-linecap="square" stroke-linejoin="miter"/>
<path d="M191 440 H270 V519 H189 V442 Z" fill="#000" />
<rect x="192" y="444" width="4" height="2" fill="#fff" />
<rect x="193" y="443" width="2" height="1" fill="#fff" />
<rect x="198" y="444" width="4" height="2" fill="#fff" />
<rect x="199" y="443" width="2" height="1" fill="#fff" />
<rect x="204" y="444" width="4" height="2" fill="#fff" />
<rect x="205" y="443" width="2" height="1" fill="#fff" />
<rect x="210" y="444" width="4" height="2" fill="#fff" />
<rect x="211" y="443" width="2" height="1" fill="#fff" />
<rect x="216" y="444" width="4" height="2" fill="#fff" />
<rect x="217" y="443" width="2" height="1" fill="#fff" />
<rect x="222" y="444" width="4" height="2" fill="#fff" />
<rect x="223" y="443" width="2" height="1" fill="#fff" />
<rect x="228" y="444" width="4" height="2" fill="#fff" />
<rect x="229" y="443" width="2" height="1" fill="#fff" />
<rect x="234" y="444" width="4" height="2" fill="#fff" />
<rect x="235" y="443" width="2" height="1" fill="#fff" />
<rect x="240" y="444" width="4" height="2" fill="#fff" />
<rect x="241" y="443" width="2" height="1" fill="#fff" />
<rect x="246" y="444" width="4" height="2" fill="#fff" />
<rect x="247" y="443" width="2" height="1" fill="#fff" />
<rect x="252" y="444" width="4" height="2" fill="#fff" />
<rect x="253" y="443" width="2" height="1" fill="#fff" />
<rect x="258" y="444" width="4" height="2" fill="#fff" />
<rect x="259" y="443" width="2" height="1" fill="#fff" />
<rect x="264" y="444" width="4" height="2" fill="#fff" />
<rect x="265" y="443" width="2" height="1" fill="#fff" />
<rect x="192" y="449" width="4" height="2" fill="#fff" />
<rect x="193" y="451" width="2" height="1" fill="#fff" />
<rect x="198" y="449" width="4" height="2" fill="#fff" />
<rect x="199" y="451" width="2" height="1" fill="#fff" />
<rect x="204" y="449" width="4" height="2" fill="#fff" />
<rect x="205" y="451" width="2" height="1" fill="#fff" />
<rect x="210" y="449" width="4" height="2" fill="#fff" />
<rect x="211" y="451" width="2" height="1" fill="#fff" />
<rect x="216" y="449" width="4" height="2" fill="#fff" />
<rect x="217" y="451" width="2" height="1" fill="#fff" />
<rect x="222" y="449" width="4" height="2" fill="#fff" />
<rect x="223" y="451" width="2" height="1" fill="#fff" />
<rect x="228" y="449" width="4" height="2" fill="#fff" />
<rect x="229" y="451" width="2" height="1" fill="#fff" />
<rect x="234" y="449" width="4" height="2" fill="#fff" />
<rect x="235" y="451" width="2" height="1" fill="#fff" />
<rect x="240" y="449" width="4" height="2" fill="#fff" />
<rect x="241" y="451" width="2" height="1" fill="#fff" />
<rect x="246" y="449" width="4" height="2" fill="#fff" />
<rect x="247" y="451" width="2" height="1" fill="#fff" />
<rect x="252" y="449" width="4" height="2" fill="#fff" />
<rect x="253" y="451" width="2" height="1" fill="#fff" />
<rect x="258" y="449" width="4" height="2" fill="#fff" />
<rect x="259" y="451" width="2" height="1" fill="#fff" />
<rect x="264" y="449" width="4" height="2" fill="#fff" />
<rect x="265" y="451" width="2" height="1" fill="#fff" />
<rect x="192" y="456" width="4" height="2" fill="#fff" />
<rect x="193" y="455" width="2" height="1" fill="#fff" />
<rect x="198" y="456" width="4" height="2" fill="#fff" />
<rect x="199" y="455" width="2" height="1" fill="#fff" />
<rect x="204" y="456" width="4" height="2" fill="#fff" />
<rect x="205" y="455" width="2" height="1" fill="#fff" />
<rect x="210" y="456" width="4" height="2" fill="#fff" />
<rect x="211" y="455" width="2" height="1" fill="#fff" />
<rect x="216" y="456" width="4" height="2" fill="#fff" />
<rect x="217" y="455" width="2" height="1" fill="#fff" />
<rect x="222" y="456" width="4" height="2" fill="#fff" />
<rect x="223" y="455" width="2" height="1" fill="#fff" />
<rect x="228" y="456" width="4" height="2" fill="#fff" />
<rect x="229" y="455" width="2" height="1" fill="#fff" />
<rect x="234" y="456" width="4" height="2" fill="#fff" />
<rect x="235" y="455" width="2" height="1" fill="#fff" />
<rect x="240" y="456" width="4" height="2" fill="#fff" />
<rect x="241" y="455" width="2" height="1" fill="#fff" />
<rect x="246" y="456" width="4" height="2" fill="#fff" />
<rect x="247" y="455" width="2" height="1" fill="#fff" />
<rect x="252" y="456" width="4" height="2" fill="#fff" />
<rect x="253" y="455" width="2" height="1" fill="#fff" />
<rect x="258" y="456" width="4" height="2" fill="#fff" />
<rect x="259" y="455" width="2" height="1" fill="#fff" />
<rect x="264" y="456" width="4" height="2" fill="#fff" />
<rect x="265" y="455" width="2" height="1" fill="#fff" />
<rect x="192" y="461" width="4" height="2" fill="#fff" />
<rect x="193" y="463" width="2" height="1" fill="#fff" />
<rect x="198" y="461" width="4" height="2" fill="#fff" />
<rect x="199" y="463" width="2" height="1" fill="#fff" />
<rect x="204" y="461" width="4" height="2" fill="#fff" />
<rect x="205" y="463" width="2" height="1" fill="#fff" />
<rect x="252" y="461" width="4" height="2" fill="#fff" />
<rect x="253" y="463" width="2" height="1" fill="#fff" />
<rect x="258" y="461" width="4" height="2" fill="#fff" />
<rect x="259" y="463" width="2" height="1" fill="#fff" />
<rect x="264" y="461" width="4" height="2" fill="#fff" />
<rect x="265" y="463" width="2" height="1" fill="#fff" />
<rect x="192" y="468" width="4" height="2" fill="#fff" />
<rect x="193" y="467" width="2" height="1" fill="#fff" />
<rect x="198" y="468" width="4" height="2" fill="#fff" />
<rect x="199" y="467" width="2" height="1" fill="#fff" />
<rect x="204" y="468" width="4" height="2" fill="#fff" />
<rect x="205" y="467" width="2" height="1" fill="#fff" />
<rect x="252" y="468" width="4" height="2" fill="#fff" />
<rect x="253" y="467" width="2" height="1" fill="#fff" />
<rect x="258" y="468" width="4" height="2" fill="#fff" />
<rect x="259" y="467" width="2" height="1" fill="#fff" />
<rect x="264" y="468" width="4" height="2" fill="#fff" />
<rect x="265" y="467" width="2" height="1" fill="#fff" />
<rect x="192" y="473" width="4" height="2" fill="#fff" />
<rect x="193" y="475" width="2" height="1" fill="#fff" />
<rect x="198" y="473" width="4" height="2" fill="#fff" />
<rect x="199" y="475" width="2" height="1" fill="#fff" />
<rect x="204" y="473" width="4" height="2" fill="#fff" />
<rect x="205" y="475" width="2" height="1" fill="#fff" />
<rect x="252" y="473" width="4" height="2" fill="#fff" />
<rect x="253" y="475" width="2" height="1" fill="#fff" />
<rect x="258" y="473" width="4" height="2" fill="#fff" />
<rect x="259" y="475" width="2" height="1" fill="#fff" />
<rect x="264" y="473" width="4" height="2" fill="#fff" />
<rect x="265" y="475" width="2" height="1" fill="#fff" />
<rect x="192" y="480" width="4" height="2" fill="#fff" />
<rect x="193" y="479" width="2" height="1" fill="#fff" />
<rect x="198" y="480" width="4" height="2" fill="#fff" />
<rect x="199" y="479" width="2" height="1" fill="#fff" />
<rect x="204" y="480" width="4" height="2" fill="#fff" />
<rect x="205" y="479" width="2" height="1" fill="#fff" />
<rect x="252" y="480" width="4" height="2" fill="#fff" />
<rect x="253" y="479" width="2" height="1" fill="#fff" />
<rect x="258" y="480" width="4" height="2" fill="#fff" />
<rect x="259" y="479" width="2" height="1" fill="#fff" />
<rect x="264" y="480" width="4" height="2" fill="#fff" />
<rect x="265" y="479" width="2" height="1" fill="#fff" />
<rect x="192" y="485" width="4" height="2" fill="#fff" />
<rect x="193" y="487" width="2" height="1" fill="#fff" />
<rect x="198" y="485" width="4" height="2" fill="#fff" />
<rect x="199" y="487" width="2" height="1" fill="#fff" />
<rect x="204" y="485" width="4" height="2" fill="#fff" />
<rect x="205" y="487" width="2" height="1" fill="#fff" />
<rect x="252" y="485" width="4" height="2" fill="#fff" />
<rect x="253" y="487" width="2" height="1" fill="#fff" />
<rect x="258" y="485" width="4" height="2" fill="#fff" />
<rect x="259" y="487" width="2" height="1" fill="#fff" />
<rect x="264" y="485" width="4" height="2" fill="#fff" />
<rect x="265" y="487" width="2" height="1" fill="#fff" />
<rect x="192" y="492" width="4" height="2" fill="#fff" />
<rect x="193" y="491" width="2" height="1" fill="#fff" />
<rect x="198" y="492" width="4" height="2" fill="#fff" />
<rect x="199" y="491" width="2" height="1" fill="#fff" />
<rect x="204" y="492" width="4" height="2" fill="#fff" />
<rect x="205" y="491" width="2" height="1" fill="#fff" />
<rect x="252" y="492" width="4" height="2" fill="#fff" />
<rect x="253" y="491" width="2" height="1" fill="#fff" />
<rect x="258" y="492" width="4" height="2" fill="#fff" />
<rect x="259" y="491" width="2" height="1" fill="#fff" />
<rect x="264" y="492" width="4" height="2" fill="#fff" />
<rect x="265" y="491" width="2" height="1" fill="#fff" />
<rect x="192" y="497" width="4" height="2" fill="#fff" />
<rect x="193" y="499" width="2" height="1" fill="#fff" />
<rect x="198" y="497" width="4" height="2" fill="#fff" />
<rect x="199" y="499" width="2" height="1" fill="#fff" />
<rect x="204" y="497" width="4" height="2" fill="#fff" />
<rect x="205" y="499" width="2" height="1" fill="#fff" />
<rect x="252" y="497" width="4" height="2" fill="#fff" />
<rect x="253" y="499" width="2" height="1" fill="#fff" />
<rect x="258" y="497" width="4" height="2" fill="#fff" />
<rect x="259" y="499" width="2" height="1" fill="#fff" />
<rect x="264" y="497" width="4" height="2" fill="#fff" />
<rect x="265" y="499" width="2" height="1" fill="#fff" />
<rect x="192" y="504" width="4" height="2" fill="#fff" />
<rect x="193" y="503" width="2" height="1" fill="#fff" />
<rect x="198" y="504" width="4" height="2" fill="#fff" />
<rect x="199" y="503" width="2" height="1" fill="#fff" />
<rect x="204" y="504" width="4" height="2" fill="#fff" />
<rect x="205" y="503" width="2" height="1" fill="#fff" />
<rect x="210" y="504" width="4" height="2" fill="#fff" />
<rect x="211" y="503" width="2" height="1" fill="#fff" />
<rect x="216" y="504" width="4" height="2" fill="#fff" />
<rect x="217" y="503" width="2" height="1" fill="#fff" />
<rect x="222" y="504" width="4" height="2" fill="#fff" />
<rect x="223" y="503" width="2" height="1" fill="#fff" />
<rect x="228" y="504" width="4" height="2" fill="#fff" />
<rect x="229" y="503" width="2" height="1" fill="#fff" />
<rect x="234" y="504" width="4" height="2" fill="#fff" />
<rect x="235" y="503" width="2" height="1" fill="#fff" />
<rect x="240" y="504" width="4" height="2" fill="#fff" />
<rect x="241" y="503" width="2" height="1" fill="#fff" />
<rect x="246" y="504" width="4" height="2" fill="#fff" />
<rect x="247" y="503" width="2" height="1" fill="#fff" />
<rect x="252" y="504" width="4" height="2" fill="#fff" />
<rect x="253" y="503" width="2" height="1" fill="#fff" />
<rect x="258" y="504" width="4" height="2" fill="#fff" />
<rect x="259" y="503" width="2" height="1" fill="#fff" />
<rect x="264" y="504" width="4" height="2" fill="#fff" />
<rect x="265" y="503" width="2" height="1" fill="#fff" />
<rect x="192" y="509" width="4" height="2" fill="#fff" />
<rect x="193" y="511" width="2" height="1" fill="#fff" />
<rect x="198" y="509" width="4" height="2" fill="#fff" />
<rect x="199" y="511" width="2" height="1" fill="#fff" />
<rect x="204" y="509" width="4" height="2" fill="#fff" />
<rect x="205" y="511" width="2" height="1" fill="#fff" />
<rect x="210" y="509" width="4" height="2" fill="#fff" />
<rect x="211" y="511" width="2" height="1" fill="#fff" />
<rect x="216" y="509" width="4" height="2" fill="#fff" />
<rect x="217" y="511" width="2" height="1" fill="#fff" />
<rect x="222" y="509" width="4" height="2" fill="#fff" />
<rect x="223" y="511" width="2" height="1" fill="#fff" />
<rect x="228" y="509" width="4" height="2" fill="#fff" />
<rect x="229" y="511" width="2" height="1" fill="#fff" />
<rect x="234" y="509" width="4" height="2" fill="#fff" />
<rect x="235" y="511" width="2" height="1" fill="#fff" />
<rect x="240" y="509" width="4" height="2" fill="#fff" />
<rect x="241" y="511" width="2" height="1" fill="#fff" />
<rect x="246" y="509" width="4" height="2" fill="#fff" />
<rect x="247" y="511" width="2" height="1" fill="#fff" />
<rect x="252" y="509" width="4" height="2" fill="#fff" />
<rect x="253" y="511" width="2" height="1" fill="#fff" />
<rect x="258" y="509" width="4" height="2" fill="#fff" />
<rect x="259" y="511" width="2" height="1" fill="#fff" />
<rect x="264" y="509" width="4" height="2" fill="#fff" />
<rect x="265" y="511" width="2" height="1" fill="#fff" />
<rect x="192" y="516" width="4" height="2" fill="#fff" />
<rect x="193" y="515" width="2" height="1" fill="#fff" />
<rect x="198" y="516" width="4" height="2" fill="#fff" />
<rect x="199" y="515" width="2" height="1" fill="#fff" />
<rect x="204" y="516" width="4" height="2" fill="#fff" />
<rect x="205" y="515" width="2" height="1" fill="#fff" />
<rect x="210" y="516" width="4" height="2" fill="#fff" />
<rect x="211" y="515" width="2" height="1" fill="#fff" />
<rect x="216" y="516" width="4" height="2" fill="#fff" />
<rect x="217" y="515" width="2" height="1" fill="#fff" />
<rect x="222" y="516" width="4" height="2" fill="#fff" />
<rect x="223" y="515" width="2" height="1" fill="#fff" />
<rect x="228" y="516" width="4" height="2" fill="#fff" />
<rect x="229" y="515" width="2" height="1" fill="#fff" />
<rect x="234" y="516" width="4" height="2" fill="#fff" />
<rect x="235" y="515" width="2" height="1" fill="#fff" />
<rect x="240" y="516" width="4" height="2" fill="#fff" />
<rect x="241" y="515" width="2" height="1" fill="#fff" />
<rect x="246" y="516" width="4" height="2" fill="#fff" />
<rect x="247" y="515" width="2" height="1" fill="#fff" />
<rect x="252" y="516" width="4" height="2" fill="#fff" />
<rect x="253" y="515" width="2" height="1" fill="#fff" />
<rect x="258" y="516" width="4" height="2" fill="#fff" />
<rect x="259" y="515" width="2" height="1" fill="#fff" />
<rect x="264" y="516" width="4" height="2" fill="#fff" />
<rect x="265" y="515" width="2" height="1" fill="#fff" />
<rect x="212" y="462" width="35" height="35" fill="#fff" />
<circle cx="216.5" cy="466" r="2.5" fill="#000" shape-rendering="auto"/>
<path d="M215.00 470.00 L245.00 470.00 L247.00 472.00 L247.00 487.00 L245.00 489.00 L215.00 489.00 L213.00 487.00 L213.00 472.00 Z" fill="#000"/>
<path d="M216.00 472.00 L244.00 472.00 L245.00 473.00 L245.00 486.00 L244.00 487.00 L216.00 487.00 L215.00 486.00 L215.00 473.00 Z" fill="#fff"/>
<path d="M216.50 483.50V474.50L221.50 483.50V474.50M226.50 483.50V474.50H229.50L230.50 475.50V478.50L229.50 479.50H226.50M236.50 474.50V482.50L237.50 483.50H240.50L241.50 482.50V474.50" fill="none" stroke="#000" stroke-width="1" stroke-linecap="square" stroke-linejoin="miter"/>
<path d="M486 435 H547 V495 H492 L486 489 Z" fill="#000" />
<rect x="488" y="437" width="57" height="56" fill="#fff" />
<rect x="488" y="437" width="6" height="5" fill="#000" />
<rect x="539" y="437" width="6" height="5" fill="#000" />
<path d="M494 442 H539 V488 H498 Q494 488 494 484 Z" fill="#000" />
<rect x="514" y="437" width="1" height="5" fill="#000" />
<rect x="533" y="437" width="1" height="5" fill="#000" />
<rect x="516" y="488" width="1" height="5" fill="#000" />
<rect x="527" y="488" width="1" height="5" fill="#000" />
<rect x="488" y="451" width="6" height="1" fill="#000" />
<rect x="488" y="462" width="6" height="1" fill="#000" />
<rect x="488" y="469" width="6" height="1" fill="#000" />
<rect x="539" y="451" width="6" height="1" fill="#000" />
<rect x="539" y="460" width="6" height="1" fill="#000" />
<circle cx="490.5" cy="490" r="1.6" fill="none" stroke="#000" stroke-width="1" shape-rendering="auto"/>
<rect x="602" y="437" width="126" height="43" fill="#000" />
<path d="M728 453 h-1 q-1 0 -1 2 v8 q0 2 1 2 h1z" fill="#fff" />
<rect x="651" y="452" width="28" height="14" fill="#fff" />
<path d="M652.50 454.50V462.60M657.50 454.50L653.50 459.00M654.50 458.10L657.50 462.60M662.50 454.50H666.50L667.50 455.40V457.20L666.50 458.10H662.50M666.50 458.10L667.50 459.00V461.70L666.50 462.60H662.50V454.50M671.50 454.50H675.50L676.50 455.40V461.70L675.50 462.60H671.50Z" fill="none" stroke="#000" stroke-width="1" stroke-linecap="square" stroke-linejoin="miter"/>
<rect x="805" y="426" width="25" height="38" fill="#000" />
<rect x="829" y="422" width="4" height="47" fill="#000" />
<rect x="832" y="420" width="4" height="51" fill="#000" />
<rect x="798" y="435" width="5" height="9" fill="#000" />
<rect x="799" y="436" width="3" height="7" fill="#fff" />
<rect x="798" y="446" width="5" height="10" fill="#000" />
<rect x="799" y="447" width="3" height="8" fill="#fff" />
<rect x="802" y="433" width="3" height="24" fill="#000" />
<rect x="803" y="436" width="2" height="1" fill="#fff" />
<rect x="803" y="438" width="2" height="1" fill="#fff" />
<rect x="803" y="440" width="2" height="1" fill="#fff" />
<rect x="803" y="442" width="2" height="1" fill="#fff" />
<rect x="803" y="444" width="2" height="1" fill="#fff" />
<rect x="803" y="446" width="2" height="1" fill="#fff" />
<rect x="803" y="448" width="2" height="1" fill="#fff" />
<rect x="803" y="450" width="2" height="1" fill="#fff" />
<rect x="803" y="452" width="2" height="1" fill="#fff" />
<rect x="803" y="454" width="2" height="1" fill="#fff" />
<path d="M782.5 388.5 L796.5 388.5 L797.5 387.5 L799.5 387.5 L800.5 386.5 L803.5 386.5 L804.5 387.5 L807.5 387.5 L808.5 388.5 L809.5 388.5 L810.5 387.5 L815.5 387.5 L816.5 386.5 L818.5 386.5 L819.5 387.5 L820.5 387.5 L821.5 388.5 L822.5 389.5 L822.5 409.5 L821.5 410.5 L820.5 411.5 L818.5 412.5 L817.5 413.5 L816.5 412.5 L813.5 412.5 L812.5 411.5 L804.5 411.5 L803.5 412.5 L800.5 412.5 L799.5 411.5 L792.5 411.5 L791.5 412.5 L788.5 412.5 L787.5 413.5 L786.5 412.5 L785.5 411.5 L782.5 411.5 Z" fill="none" stroke="#000" stroke-width="1"/>
<rect x="675" y="491" width="114" height="25" fill="#000" />
<rect x="676" y="492" width="112" height="23" fill="#fff" />
<rect x="675" y="499" width="114" height="1" fill="#000" />
<rect x="678" y="495" width="7" height="3" fill="#000" />
<rect x="679" y="494" width="5" height="1" fill="#000" />
<rect x="679" y="498" width="5" height="1" fill="#000" />
<rect x="679" y="496" width="5" height="1" fill="#fff" />
<rect x="677" y="496" width="1" height="1" fill="#000" />
<rect x="678" y="502" width="7" height="2" fill="#000" />
<rect x="687" y="495" width="7" height="3" fill="#000" />
<rect x="688" y="494" width="5" height="1" fill="#000" />
<rect x="688" y="498" width="5" height="1" fill="#000" />
<rect x="688" y="496" width="5" height="1" fill="#fff" />
<rect x="686" y="496" width="1" height="1" fill="#000" />
<rect x="687" y="502" width="7" height="2" fill="#000" />
<rect x="696" y="495" width="7" height="3" fill="#000" />
<rect x="697" y="494" width="5" height="1" fill="#000" />
<rect x="697" y="498" width="5" height="1" fill="#000" />
<rect x="697" y="496" width="5" height="1" fill="#fff" />
<rect x="695" y="496" width="1" height="1" fill="#000" />
<rect x="696" y="502" width="7" height="2" fill="#000" />
<rect x="705" y="495" width="7" height="3" fill="#000" />
<rect x="706" y="494" width="5" height="1" fill="#000" />
<rect x="706" y="498" width="5" height="1" fill="#000" />
<rect x="706" y="496" width="5" height="1" fill="#fff" />
<rect x="704" y="496" width="1" height="1" fill="#000" />
<rect x="705" y="502" width="7" height="2" fill="#000" />
<rect x="715" y="495" width="7" height="3" fill="#000" />
<rect x="716" y="494" width="5" height="1" fill="#000" />
<rect x="716" y="498" width="5" height="1" fill="#000" />
<rect x="716" y="496" width="5" height="1" fill="#fff" />
<rect x="714" y="496" width="1" height="1" fill="#000" />
<rect x="715" y="502" width="7" height="2" fill="#000" />
<rect x="724" y="495" width="7" height="3" fill="#000" />
<rect x="725" y="494" width="5" height="1" fill="#000" />
<rect x="725" y="498" width="5" height="1" fill="#000" />
<rect x="725" y="496" width="5" height="1" fill="#fff" />
<rect x="723" y="496" width="1" height="1" fill="#000" />
<rect x="724" y="502" width="7" height="2" fill="#000" />
<rect x="733" y="495" width="7" height="3" fill="#000" />
<rect x="734" y="494" width="5" height="1" fill="#000" />
<rect x="734" y="498" width="5" height="1" fill="#000" />
<rect x="734" y="496" width="5" height="1" fill="#fff" />
<rect x="732" y="496" width="1" height="1" fill="#000" />
<rect x="733" y="502" width="7" height="2" fill="#000" />
<rect x="742" y="495" width="7" height="3" fill="#000" />
<rect x="743" y="494" width="5" height="1" fill="#000" />
<rect x="743" y="498" width="5" height="1" fill="#000" />
<rect x="743" y="496" width="5" height="1" fill="#fff" />
<rect x="741" y="496" width="1" height="1" fill="#000" />
<rect x="742" y="502" width="7" height="2" fill="#000" />
<rect x="751" y="495" width="7" height="3" fill="#000" />
<rect x="752" y="494" width="5" height="1" fill="#000" />
<rect x="752" y="498" width="5" height="1" fill="#000" />
<rect x="752" y="496" width="5" height="1" fill="#fff" />
<rect x="750" y="496" width="1" height="1" fill="#000" />
<rect x="751" y="502" width="7" height="2" fill="#000" />
<rect x="760" y="495" width="7" height="3" fill="#000" />
<rect x="761" y="494" width="5" height="1" fill="#000" />
<rect x="761" y="498" width="5" height="1" fill="#000" />
<rect x="761" y="496" width="5" height="1" fill="#fff" />
<rect x="759" y="496" width="1" height="1" fill="#000" />
<rect x="760" y="502" width="7" height="2" fill="#000" />
<rect x="770" y="495" width="7" height="3" fill="#000" />
<rect x="771" y="494" width="5" height="1" fill="#000" />
<rect x="771" y="498" width="5" height="1" fill="#000" />
<rect x="771" y="496" width="5" height="1" fill="#fff" />
<rect x="769" y="496" width="1" height="1" fill="#000" />
<rect x="770" y="502" width="7" height="2" fill="#000" />
<rect x="779" y="495" width="7" height="3" fill="#000" />
<rect x="780" y="494" width="5" height="1" fill="#000" />
<rect x="780" y="498" width="5" height="1" fill="#000" />
<rect x="780" y="496" width="5" height="1" fill="#fff" />
<rect x="778" y="496" width="1" height="1" fill="#000" />
<rect x="779" y="502" width="7" height="2" fill="#000" />
<rect x="681" y="505" width="7" height="8" fill="#000" />
<rect x="682" y="506" width="5" height="6" fill="#fff" />
<rect x="690" y="505" width="7" height="8" fill="#000" />
<rect x="691" y="506" width="5" height="6" fill="#fff" />
<rect x="700" y="505" width="7" height="8" fill="#000" />
<rect x="701" y="506" width="5" height="6" fill="#fff" />
<rect x="709" y="505" width="7" height="8" fill="#000" />
<rect x="710" y="506" width="5" height="6" fill="#fff" />
<rect x="719" y="505" width="7" height="8" fill="#000" />
<rect x="720" y="506" width="5" height="6" fill="#fff" />
<rect x="728" y="505" width="7" height="8" fill="#000" />
<rect x="729" y="506" width="5" height="6" fill="#fff" />
<rect x="737" y="505" width="7" height="8" fill="#000" />
<rect x="738" y="506" width="5" height="6" fill="#fff" />
<rect x="747" y="505" width="7" height="8" fill="#000" />
<rect x="748" y="506" width="5" height="6" fill="#fff" />
<rect x="756" y="505" width="7" height="8" fill="#000" />
<rect x="757" y="506" width="5" height="6" fill="#fff" />
<rect x="766" y="505" width="7" height="8" fill="#000" />
<rect x="767" y="506" width="5" height="6" fill="#fff" />
<rect x="775" y="505" width="7" height="8" fill="#000" />
<rect x="776" y="506" width="5" height="6" fill="#fff" />
<rect x="675" y="506" width="2" height="5" fill="#fff" />
<rect x="676" y="506" width="2" height="1" fill="#000" />
<rect x="676" y="510" width="2" height="1" fill="#000" />
<rect x="677" y="507" width="1" height="3" fill="#000" />
<rect x="787" y="506" width="2" height="5" fill="#fff" />
<rect x="786" y="506" width="2" height="1" fill="#000" />
<rect x="786" y="510" width="2" height="1" fill="#000" />
<rect x="786" y="507" width="1" height="3" fill="#000" />
<g transform="translate(0,0)">
<rect x="60" y="188" width="84" height="25" fill="#000" />
<rect x="62" y="190" width="4" height="5" fill="#fff" />
<rect x="68" y="190" width="3" height="5" fill="#fff" />
<rect x="65" y="198" width="7" height="5" fill="#fff" />
<rect x="62" y="206" width="4" height="5" fill="#fff" />
<rect x="68" y="206" width="3" height="5" fill="#fff" />
<rect x="138" y="190" width="4" height="5" fill="#fff" />
<rect x="133" y="190" width="3" height="5" fill="#fff" />
<rect x="132" y="198" width="6" height="5" fill="#fff" />
<rect x="138" y="206" width="4" height="5" fill="#fff" />
<rect x="133" y="206" width="3" height="5" fill="#fff" />
<path d="M144 198.5 l-3 2.5 l3 2.5 z" fill="#fff" />
<rect x="75.0" y="209.5" width="3" height="1.5" fill="#fff" />
<rect x="80.8" y="209.5" width="3" height="1.5" fill="#fff" />
<rect x="86.6" y="209.5" width="3" height="1.5" fill="#fff" />
<rect x="92.4" y="209.5" width="3" height="1.5" fill="#fff" />
<rect x="98.2" y="209.5" width="3" height="1.5" fill="#fff" />
<rect x="104.0" y="209.5" width="3" height="1.5" fill="#fff" />
<rect x="109.8" y="209.5" width="3" height="1.5" fill="#fff" />
<rect x="115.6" y="209.5" width="3" height="1.5" fill="#fff" />
<rect x="121.4" y="209.5" width="3" height="1.5" fill="#fff" />
<rect x="127.19999999999999" y="209.5" width="3" height="1.5" fill="#fff" />
<rect x="74" y="193" width="55" height="15" rx="2.5" fill="#fff" shape-rendering="auto"/>
<path d="M79.50 195.50H83.50L84.50 196.50V198.50L83.50 199.50H79.50M83.50 199.50L84.50 200.50V203.50L83.50 204.50H79.50V195.50M88.50 204.50L91.50 195.50L94.50 204.50M89.50 201.50H93.50M98.50 204.50V195.50L103.50 204.50V195.50M107.50 195.50V204.50M112.50 195.50L108.50 200.50M109.50 199.50L112.50 204.50M121.50 197.50L123.50 195.50V204.50" fill="none" stroke="#000" stroke-width="1" stroke-linecap="square" stroke-linejoin="miter"/>
</g>
<g transform="translate(0,0)">
<rect x="60" y="215" width="84" height="25" fill="#000" />
<rect x="62" y="217" width="4" height="5" fill="#fff" />
<rect x="68" y="217" width="3" height="5" fill="#fff" />
<rect x="65" y="225" width="7" height="5" fill="#fff" />
<rect x="62" y="233" width="4" height="5" fill="#fff" />
<rect x="68" y="233" width="3" height="5" fill="#fff" />
<rect x="138" y="217" width="4" height="5" fill="#fff" />
<rect x="133" y="217" width="3" height="5" fill="#fff" />
<rect x="132" y="225" width="6" height="5" fill="#fff" />
<rect x="138" y="233" width="4" height="5" fill="#fff" />
<rect x="133" y="233" width="3" height="5" fill="#fff" />
<path d="M144 225.5 l-3 2.5 l3 2.5 z" fill="#fff" />
<rect x="75.0" y="235" width="3" height="1.5" fill="#fff" />
<rect x="80.8" y="235" width="3" height="1.5" fill="#fff" />
<rect x="86.6" y="235" width="3" height="1.5" fill="#fff" />
<rect x="92.4" y="235" width="3" height="1.5" fill="#fff" />
<rect x="98.2" y="235" width="3" height="1.5" fill="#fff" />
<rect x="104.0" y="235" width="3" height="1.5" fill="#fff" />
<rect x="109.8" y="235" width="3" height="1.5" fill="#fff" />
<rect x="115.6" y="235" width="3" height="1.5" fill="#fff" />
<rect x="121.4" y="235" width="3" height="1.5" fill="#fff" />
<rect x="127.19999999999999" y="235" width="3" height="1.5" fill="#fff" />
<rect x="75" y="219" width="56" height="14" rx="2.5" fill="#fff" shape-rendering="auto"/>
<path d="M78.50 220.50H82.50L83.50 221.50V223.50L82.50 224.50H78.50M82.50 224.50L83.50 225.50V228.50L82.50 229.50H78.50V220.50M87.50 229.50L90.50 220.50L93.50 229.50M88.50 226.50H92.50M96.50 229.50V220.50L101.50 229.50V220.50M105.50 220.50V229.50M110.50 220.50L106.50 225.50M107.50 224.50L110.50 229.50M120.50 220.50L118.50 222.50V227.50L120.50 229.50L122.50 227.50V222.50Z" fill="none" stroke="#000" stroke-width="1" stroke-linecap="square" stroke-linejoin="miter"/>
</g>
<g transform="translate(0,0)">
<rect x="60" y="241" width="84" height="25" fill="#000" />
<rect x="62" y="243" width="4" height="5" fill="#fff" />
<rect x="68" y="243" width="3" height="5" fill="#fff" />
<rect x="65" y="251" width="7" height="5" fill="#fff" />
<rect x="62" y="259" width="4" height="5" fill="#fff" />
<rect x="68" y="259" width="3" height="5" fill="#fff" />
<rect x="138" y="243" width="4" height="5" fill="#fff" />
<rect x="133" y="243" width="3" height="5" fill="#fff" />
<rect x="132" y="251" width="6" height="5" fill="#fff" />
<rect x="138" y="259" width="4" height="5" fill="#fff" />
<rect x="133" y="259" width="3" height="5" fill="#fff" />
<path d="M144 251.5 l-3 2.5 l3 2.5 z" fill="#fff" />
<rect x="75.0" y="261.5" width="3" height="1.5" fill="#fff" />
<rect x="80.8" y="261.5" width="3" height="1.5" fill="#fff" />
<rect x="86.6" y="261.5" width="3" height="1.5" fill="#fff" />
<rect x="92.4" y="261.5" width="3" height="1.5" fill="#fff" />
<rect x="98.2" y="261.5" width="3" height="1.5" fill="#fff" />
<rect x="104.0" y="261.5" width="3" height="1.5" fill="#fff" />
<rect x="109.8" y="261.5" width="3" height="1.5" fill="#fff" />
<rect x="115.6" y="261.5" width="3" height="1.5" fill="#fff" />
<rect x="121.4" y="261.5" width="3" height="1.5" fill="#fff" />
<rect x="127.19999999999999" y="261.5" width="3" height="1.5" fill="#fff" />
<rect x="74" y="245" width="55" height="14" rx="2.5" fill="#fff" shape-rendering="auto"/>
<path d="M78.50 246.50H82.50L83.50 247.50V249.50L82.50 250.50H78.50M82.50 250.50L83.50 251.50V254.50L82.50 255.50H78.50V246.50M88.50 255.50L91.50 246.50L94.50 255.50M89.50 252.50H93.50M98.50 255.50V246.50L103.50 255.50V246.50M107.50 246.50V255.50M112.50 246.50L108.50 251.50M109.50 250.50L112.50 255.50M121.50 248.50L123.50 246.50V255.50" fill="none" stroke="#000" stroke-width="1" stroke-linecap="square" stroke-linejoin="miter"/>
</g>
<g transform="translate(0,0)">
<rect x="60" y="267" width="84" height="25" fill="#000" />
<rect x="62" y="269" width="4" height="5" fill="#fff" />
<rect x="68" y="269" width="3" height="5" fill="#fff" />
<rect x="65" y="277" width="7" height="5" fill="#fff" />
<rect x="62" y="285" width="4" height="5" fill="#fff" />
<rect x="68" y="285" width="3" height="5" fill="#fff" />
<rect x="138" y="269" width="4" height="5" fill="#fff" />
<rect x="133" y="269" width="3" height="5" fill="#fff" />
<rect x="132" y="277" width="6" height="5" fill="#fff" />
<rect x="138" y="285" width="4" height="5" fill="#fff" />
<rect x="133" y="285" width="3" height="5" fill="#fff" />
<path d="M144 277.5 l-3 2.5 l3 2.5 z" fill="#fff" />
<rect x="75.0" y="287.5" width="3" height="1.5" fill="#fff" />
<rect x="80.8" y="287.5" width="3" height="1.5" fill="#fff" />
<rect x="86.6" y="287.5" width="3" height="1.5" fill="#fff" />
<rect x="92.4" y="287.5" width="3" height="1.5" fill="#fff" />
<rect x="98.2" y="287.5" width="3" height="1.5" fill="#fff" />
<rect x="104.0" y="287.5" width="3" height="1.5" fill="#fff" />
<rect x="109.8" y="287.5" width="3" height="1.5" fill="#fff" />
<rect x="115.6" y="287.5" width="3" height="1.5" fill="#fff" />
<rect x="121.4" y="287.5" width="3" height="1.5" fill="#fff" />
<rect x="127.19999999999999" y="287.5" width="3" height="1.5" fill="#fff" />
<rect x="75.6" y="271" width="55.400000000000006" height="14" rx="2.5" fill="#fff" shape-rendering="auto"/>
<path d="M78.50 272.50H82.50L83.50 273.50V275.50L82.50 276.50H78.50M82.50 276.50L83.50 277.50V280.50L82.50 281.50H78.50V272.50M87.50 281.50L90.50 272.50L93.50 281.50M88.50 278.50H92.50M97.50 281.50V272.50L102.50 281.50V272.50M105.50 272.50V281.50M110.50 272.50L106.50 277.50M107.50 276.50L110.50 281.50M121.50 272.50L119.50 274.50V279.50L121.50 281.50L123.50 279.50V274.50Z" fill="none" stroke="#000" stroke-width="1" stroke-linecap="square" stroke-linejoin="miter"/>
</g>
<g transform="translate(0,0)">
<rect x="60" y="293" width="84" height="25" fill="#000" />
<rect x="62" y="295" width="4" height="5" fill="#fff" />
<rect x="68" y="295" width="3" height="5" fill="#fff" />
<rect x="65" y="303" width="7" height="5" fill="#fff" />
<rect x="62" y="311" width="4" height="5" fill="#fff" />
<rect x="68" y="311" width="3" height="5" fill="#fff" />
<rect x="138" y="295" width="4" height="5" fill="#fff" />
<rect x="133" y="295" width="3" height="5" fill="#fff" />
<rect x="132" y="303" width="6" height="5" fill="#fff" />
<rect x="138" y="311" width="4" height="5" fill="#fff" />
<rect x="133" y="311" width="3" height="5" fill="#fff" />
<path d="M144 303.5 l-3 2.5 l3 2.5 z" fill="#fff" />
<rect x="75.0" y="314" width="3" height="1.5" fill="#fff" />
<rect x="80.8" y="314" width="3" height="1.5" fill="#fff" />
<rect x="86.6" y="314" width="3" height="1.5" fill="#fff" />
<rect x="92.4" y="314" width="3" height="1.5" fill="#fff" />
<rect x="98.2" y="314" width="3" height="1.5" fill="#fff" />
<rect x="104.0" y="314" width="3" height="1.5" fill="#fff" />
<rect x="109.8" y="314" width="3" height="1.5" fill="#fff" />
<rect x="115.6" y="314" width="3" height="1.5" fill="#fff" />
<rect x="121.4" y="314" width="3" height="1.5" fill="#fff" />
<rect x="127.19999999999999" y="314" width="3" height="1.5" fill="#fff" />
<rect x="74" y="297" width="55.400000000000006" height="14" rx="2.5" fill="#fff" shape-rendering="auto"/>
<path d="M79.50 299.50H83.50L84.50 300.50V302.50L83.50 303.50H79.50M83.50 303.50L84.50 304.50V307.50L83.50 308.50H79.50V299.50M88.50 308.50L91.50 299.50L94.50 308.50M89.50 305.50H93.50M98.50 308.50V299.50L103.50 308.50V299.50M107.50 299.50V308.50M112.50 299.50L108.50 304.50M109.50 303.50L112.50 308.50M121.50 301.50L123.50 299.50V308.50" fill="none" stroke="#000" stroke-width="1" stroke-linecap="square" stroke-linejoin="miter"/>
</g>
<g transform="translate(0,0)">
<rect x="60" y="319" width="84" height="25" fill="#000" />
<rect x="62" y="321" width="4" height="5" fill="#fff" />
<rect x="68" y="321" width="3" height="5" fill="#fff" />
<rect x="65" y="329" width="7" height="5" fill="#fff" />
<rect x="62" y="337" width="4" height="5" fill="#fff" />
<rect x="68" y="337" width="3" height="5" fill="#fff" />
<rect x="138" y="321" width="4" height="5" fill="#fff" />
<rect x="133" y="321" width="3" height="5" fill="#fff" />
<rect x="132" y="329" width="6" height="5" fill="#fff" />
<rect x="138" y="337" width="4" height="5" fill="#fff" />
<rect x="133" y="337" width="3" height="5" fill="#fff" />
<path d="M144 329.5 l-3 2.5 l3 2.5 z" fill="#fff" />
<rect x="75.0" y="340.5" width="3" height="1.5" fill="#fff" />
<rect x="80.8" y="340.5" width="3" height="1.5" fill="#fff" />
<rect x="86.6" y="340.5" width="3" height="1.5" fill="#fff" />
<rect x="92.4" y="340.5" width="3" height="1.5" fill="#fff" />
<rect x="98.2" y="340.5" width="3" height="1.5" fill="#fff" />
<rect x="104.0" y="340.5" width="3" height="1.5" fill="#fff" />
<rect x="109.8" y="340.5" width="3" height="1.5" fill="#fff" />
<rect x="115.6" y="340.5" width="3" height="1.5" fill="#fff" />
<rect x="121.4" y="340.5" width="3" height="1.5" fill="#fff" />
<rect x="127.19999999999999" y="340.5" width="3" height="1.5" fill="#fff" />
<rect x="75.0" y="321" width="3" height="1.5" fill="#fff" />
<rect x="80.8" y="321" width="3" height="1.5" fill="#fff" />
<rect x="86.6" y="321" width="3" height="1.5" fill="#fff" />
<rect x="92.4" y="321" width="3" height="1.5" fill="#fff" />
<rect x="109.8" y="321" width="3" height="1.5" fill="#fff" />
<rect x="115.6" y="321" width="3" height="1.5" fill="#fff" />
<rect x="72" y="324" width="55.3" height="13" rx="2.5" fill="#fff" shape-rendering="auto"/>
<path d="M74.50 325.50H78.50L79.50 326.50V328.50L78.50 329.50H74.50M78.50 329.50L79.50 330.50V333.50L78.50 334.50H74.50V325.50M83.50 334.50L86.50 325.50L89.50 334.50M84.50 331.50H88.50M93.50 334.50V325.50L98.50 334.50V325.50M102.50 325.50V334.50M107.50 325.50L103.50 330.50M104.50 329.50L107.50 334.50M117.50 325.50L115.50 327.50V332.50L117.50 334.50L119.50 332.50V327.50Z" fill="none" stroke="#000" stroke-width="1" stroke-linecap="square" stroke-linejoin="miter"/>
</g>
<g transform="translate(1,0)">
<rect x="60" y="392" width="84" height="25" fill="#000" />
<rect x="62" y="394" width="4" height="5" fill="#fff" />
<rect x="68" y="394" width="3" height="5" fill="#fff" />
<rect x="65" y="402" width="7" height="5" fill="#fff" />
<rect x="62" y="410" width="4" height="5" fill="#fff" />
<rect x="68" y="410" width="3" height="5" fill="#fff" />
<rect x="138" y="394" width="4" height="5" fill="#fff" />
<rect x="133" y="394" width="3" height="5" fill="#fff" />
<rect x="132" y="402" width="6" height="5" fill="#fff" />
<rect x="138" y="410" width="4" height="5" fill="#fff" />
<rect x="133" y="410" width="3" height="5" fill="#fff" />
<path d="M144 402.5 l-3 2.5 l3 2.5 z" fill="#fff" />
<rect x="74.7" y="398.8" width="55.499999999999986" height="14.199999999999989" rx="2.5" fill="#fff" shape-rendering="auto"/>
<path d="M79.50 401.50H83.50L84.50 402.50V404.50L83.50 405.50H79.50M83.50 405.50L84.50 406.50V409.50L83.50 410.50H79.50V401.50M88.50 410.50L91.50 401.50L94.50 410.50M89.50 407.50H93.50M98.50 410.50V401.50L103.50 410.50V401.50M107.50 401.50V410.50M112.50 401.50L108.50 406.50M109.50 405.50L112.50 410.50M121.50 403.50L123.50 401.50V410.50" fill="none" stroke="#000" stroke-width="1" stroke-linecap="square" stroke-linejoin="miter"/>
</g>
<g transform="translate(1,0)">
<rect x="60" y="418" width="84" height="25" fill="#000" />
<rect x="62" y="420" width="4" height="5" fill="#fff" />
<rect x="68" y="420" width="3" height="5" fill="#fff" />
<rect x="65" y="428" width="7" height="5" fill="#fff" />
<rect x="62" y="436" width="4" height="5" fill="#fff" />
<rect x="68" y="436" width="3" height="5" fill="#fff" />
<rect x="138" y="420" width="4" height="5" fill="#fff" />
<rect x="133" y="420" width="3" height="5" fill="#fff" />
<rect x="132" y="428" width="6" height="5" fill="#fff" />
<rect x="138" y="436" width="4" height="5" fill="#fff" />
<rect x="133" y="436" width="3" height="5" fill="#fff" />
<path d="M144 428.5 l-3 2.5 l3 2.5 z" fill="#fff" />
<rect x="75.0" y="439" width="3" height="1.5" fill="#fff" />
<rect x="80.8" y="439" width="3" height="1.5" fill="#fff" />
<rect x="86.6" y="439" width="3" height="1.5" fill="#fff" />
<rect x="92.4" y="439" width="3" height="1.5" fill="#fff" />
<rect x="98.2" y="439" width="3" height="1.5" fill="#fff" />
<rect x="104.0" y="439" width="3" height="1.5" fill="#fff" />
<rect x="109.8" y="439" width="3" height="1.5" fill="#fff" />
<rect x="115.6" y="439" width="3" height="1.5" fill="#fff" />
<rect x="121.4" y="439" width="3" height="1.5" fill="#fff" />
<rect x="127.19999999999999" y="439" width="3" height="1.5" fill="#fff" />
<rect x="73.7" y="423" width="56.499999999999986" height="13.699999999999989" rx="2.5" fill="#fff" shape-rendering="auto"/>
<path d="M77.50 423.50H81.50L82.50 424.50V426.50L81.50 427.50H77.50M81.50 427.50L82.50 428.50V431.50L81.50 432.50H77.50V423.50M85.50 432.50L88.50 423.50L91.50 432.50M86.50 429.50H90.50M95.50 432.50V423.50L100.50 432.50V423.50M104.50 423.50V432.50M109.50 423.50L105.50 428.50M106.50 427.50L109.50 432.50M119.50 423.50L117.50 425.50V430.50L119.50 432.50L121.50 430.50V425.50Z" fill="none" stroke="#000" stroke-width="1" stroke-linecap="square" stroke-linejoin="miter"/>
</g>
<rect x="149" y="388" width="66" height="25" fill="#000" />
<rect x="152" y="390" width="3" height="5" fill="#fff" />
<rect x="152" y="406" width="3" height="5" fill="#fff" />
<rect x="158" y="390" width="3" height="5" fill="#fff" />
<rect x="158" y="406" width="3" height="5" fill="#fff" />
<rect x="163" y="390" width="3" height="5" fill="#fff" />
<rect x="163" y="406" width="3" height="5" fill="#fff" />
<rect x="169" y="390" width="3" height="5" fill="#fff" />
<rect x="169" y="406" width="3" height="5" fill="#fff" />
<rect x="174" y="390" width="3" height="5" fill="#fff" />
<rect x="174" y="406" width="3" height="5" fill="#fff" />
<rect x="180" y="390" width="3" height="5" fill="#fff" />
<rect x="180" y="406" width="3" height="5" fill="#fff" />
<rect x="186" y="390" width="3" height="5" fill="#fff" />
<rect x="186" y="406" width="3" height="5" fill="#fff" />
<rect x="191" y="390" width="3" height="5" fill="#fff" />
<rect x="191" y="406" width="3" height="5" fill="#fff" />
<rect x="197" y="390" width="3" height="5" fill="#fff" />
<rect x="197" y="406" width="3" height="5" fill="#fff" />
<rect x="202" y="390" width="3" height="5" fill="#fff" />
<rect x="202" y="406" width="3" height="5" fill="#fff" />
<rect x="208" y="390" width="3" height="5" fill="#fff" />
<rect x="208" y="406" width="3" height="5" fill="#fff" />
<rect x="154" y="398" width="26" height="5" fill="#fff" />
<rect x="184" y="398" width="24" height="5" fill="#fff" />
<path d="M215 398 l-3 2.5 l3 2.5 z" fill="#fff" />
<rect x="149" y="413" width="66" height="25" fill="#000" />
<rect x="152" y="416" width="3" height="5" fill="#fff" />
<rect x="152" y="432" width="3" height="5" fill="#fff" />
<rect x="158" y="416" width="3" height="5" fill="#fff" />
<rect x="158" y="432" width="3" height="5" fill="#fff" />
<rect x="163" y="416" width="3" height="5" fill="#fff" />
<rect x="163" y="432" width="3" height="5" fill="#fff" />
<rect x="169" y="416" width="3" height="5" fill="#fff" />
<rect x="169" y="432" width="3" height="5" fill="#fff" />
<rect x="174" y="416" width="3" height="5" fill="#fff" />
<rect x="174" y="432" width="3" height="5" fill="#fff" />
<rect x="180" y="416" width="3" height="5" fill="#fff" />
<rect x="180" y="432" width="3" height="5" fill="#fff" />
<rect x="186" y="416" width="3" height="5" fill="#fff" />
<rect x="186" y="432" width="3" height="5" fill="#fff" />
<rect x="191" y="416" width="3" height="5" fill="#fff" />
<rect x="191" y="432" width="3" height="5" fill="#fff" />
<rect x="197" y="416" width="3" height="5" fill="#fff" />
<rect x="197" y="432" width="3" height="5" fill="#fff" />
<rect x="202" y="416" width="3" height="5" fill="#fff" />
<rect x="202" y="432" width="3" height="5" fill="#fff" />
<rect x="208" y="416" width="3" height="5" fill="#fff" />
<rect x="208" y="432" width="3" height="5" fill="#fff" />
<rect x="154" y="424" width="26" height="5" fill="#fff" />
<rect x="184" y="424" width="24" height="5" fill="#fff" />
<path d="M215 424 l-3 2.5 l3 2.5 z" fill="#fff" />
<rect x="149" y="412" width="18" height="1" fill="#fff" />
<rect x="199" y="412" width="16" height="1" fill="#fff" />
<rect x="168" y="409" width="28" height="14" fill="#fff" />
<path d="M171.50 411.50H177.50M174.50 411.50V420.50M179.50 420.50L182.50 411.50L185.50 420.50M180.50 417.50H184.50M192.50 412.50L191.50 411.50H188.50L187.50 412.50V419.50L188.50 420.50H191.50L192.50 419.50V416.50H190.50" fill="none" stroke="#000" stroke-width="1" stroke-linecap="square" stroke-linejoin="miter"/>
<path d="M175.00 42.00 L230.00 42.00 L232.00 44.00 L232.00 57.00 L230.00 59.00 L175.00 59.00 L173.00 57.00 L173.00 44.00 Z" fill="#000"/>
<path d="M176.00 44.00 L229.00 44.00 L230.00 45.00 L230.00 56.00 L229.00 57.00 L176.00 57.00 L175.00 56.00 L175.00 45.00 Z" fill="#fff"/>
<path d="M178.50 44.50H182.50L183.50 45.50V47.50L182.50 48.50H178.50M182.50 48.50L183.50 49.50V52.50L182.50 53.50H178.50V44.50M187.50 53.50L190.50 44.50L193.50 53.50M188.50 50.50H192.50M197.50 53.50V44.50L202.50 53.50V44.50M206.50 44.50V53.50M211.50 44.50L207.50 49.50M208.50 48.50L211.50 53.50M220.50 46.50L222.50 44.50V53.50" fill="none" stroke="#000" stroke-width="1" stroke-linecap="square" stroke-linejoin="miter"/>
<rect x="174" y="133" width="57" height="16" fill="#000" />
<rect x="175" y="134" width="55" height="14" fill="#fff" />
<path d="M177.50 134.50H181.50L182.50 135.50V137.50L181.50 138.50H177.50M181.50 138.50L182.50 139.50V142.50L181.50 143.50H177.50V134.50M186.50 143.50L189.50 134.50L192.50 143.50M187.50 140.50H191.50M195.50 143.50V134.50L200.50 143.50V134.50M204.50 134.50V143.50M209.50 134.50L205.50 139.50M206.50 138.50L209.50 143.50M219.50 134.50L217.50 136.50V141.50L219.50 143.50L221.50 141.50V136.50Z" fill="none" stroke="#000" stroke-width="1" stroke-linecap="square" stroke-linejoin="miter"/>
<path d="M456.50 54.50 L453.75 35.50 L452.25 35.50 L449.50 54.50 Z" fill="#000"/>
<path d="M441.00 53.00 L463.00 53.00 L465.00 55.00 L465.00 70.00 L463.00 72.00 L441.00 72.00 L439.00 70.00 L439.00 55.00 Z" fill="#000"/>
<path d="M442.00 55.00 L462.00 55.00 L463.00 56.00 L463.00 69.00 L462.00 70.00 L442.00 70.00 L441.00 69.00 L441.00 56.00 Z" fill="#fff"/>
<path d="M454.50 56.00 L453.00 42.50 L451.50 56.00 Z" fill="#fff"/>
<path d="M449.50 57.50L448.50 56.50H445.50L444.50 57.50V59.50L445.50 60.50H448.50L449.50 61.50V64.50L448.50 65.50H445.50L444.50 64.50M455.50 58.50L457.50 56.50V65.50" fill="none" stroke="#000" stroke-width="1" stroke-linecap="square" stroke-linejoin="miter"/>
<path d="M684.50 50.60V42.50L687.50 47.90L690.50 42.50V50.60M693.50 42.50V50.60M698.50 42.50V50.60M693.50 46.10H698.50M702.50 44.30L704.50 42.50V50.60M708.50 44.30L710.50 42.50V50.60M716.50 42.50L714.50 44.30V48.80L716.50 50.60L718.50 48.80V44.30ZM725.50 43.40H721.50V46.10H724.50L725.50 47.00V49.70L724.50 50.60H722.50L721.50 49.70" fill="none" stroke="#000" stroke-width="1" stroke-linecap="square" stroke-linejoin="miter"/>
<rect x="71" y="121" width="14" height="7" fill="#000" />
<rect x="72" y="122" width="12" height="5" fill="#fff" />
<rect x="73" y="123" width="4" height="4" fill="#000" />
<rect x="78" y="123" width="5" height="4" fill="#000" />
<path d="M74.50 103.50 L77.25 121.00 L78.75 121.00 L81.50 103.50 Z" fill="#000"/>
<path d="M68.00 87.00 L90.00 87.00 L92.00 89.00 L92.00 103.00 L90.00 105.00 L68.00 105.00 L66.00 103.00 L66.00 89.00 Z" fill="#000"/>
<path d="M69.00 89.00 L89.00 89.00 L90.00 90.00 L90.00 102.00 L89.00 103.00 L69.00 103.00 L68.00 102.00 L68.00 90.00 Z" fill="#fff"/>
<path d="M76.50 102.00 L78.00 114.60 L79.50 102.00 Z" fill="#fff"/>
<path d="M74.50 90.50V98.50L73.50 99.50H72.50L71.50 98.50V97.50M81.50 92.50L83.50 90.50V99.50" fill="none" stroke="#000" stroke-width="1" stroke-linecap="square" stroke-linejoin="miter"/>
<rect x="71" y="133" width="14" height="7" fill="#000" />
<rect x="73" y="134" width="1" height="5" fill="#fff" />
<rect x="78" y="134" width="1" height="5" fill="#fff" />
<rect x="83" y="134" width="1" height="5" fill="#fff" />
<path d="M55.50 140.00 L71.00 137.25 L71.00 135.75 L55.50 133.00 Z" fill="#000"/>
<path d="M9.00 127.00 L55.00 127.00 L57.00 129.00 L57.00 144.00 L55.00 146.00 L9.00 146.00 L7.00 144.00 L7.00 129.00 Z" fill="#000"/>
<path d="M10.00 129.00 L54.00 129.00 L55.00 130.00 L55.00 143.00 L54.00 144.00 L10.00 144.00 L9.00 143.00 L9.00 130.00 Z" fill="#fff"/>
<path d="M54.00 138.00 L65.40 136.50 L54.00 135.00 Z" fill="#fff"/>
<path d="M15.50 130.50V138.50L14.50 139.50H13.50L12.50 138.50V137.50M20.50 139.50V130.50H23.50L24.50 131.50V134.50L23.50 135.50H20.50M29.50 132.50L31.50 130.50V139.50M35.50 132.50L37.50 130.50V139.50M44.50 130.50L42.50 132.50V137.50L44.50 139.50L46.50 137.50V132.50Z" fill="none" stroke="#000" stroke-width="1" stroke-linecap="square" stroke-linejoin="miter"/>
<rect x="71" y="146" width="14" height="7" fill="#000" />
<rect x="72" y="147" width="12" height="5" fill="#fff" />
<rect x="73" y="148" width="4" height="4" fill="#000" />
<rect x="78" y="148" width="5" height="4" fill="#000" />
<path d="M102.50 146.50 L85.00 148.75 L85.00 150.25 L102.50 152.50 Z" fill="#000"/>
<path d="M103.00 142.00 L133.00 142.00 L135.00 144.00 L135.00 156.00 L133.00 158.00 L103.00 158.00 L101.00 156.00 L101.00 144.00 Z" fill="#000"/>
<path d="M104.00 144.00 L132.00 144.00 L133.00 145.00 L133.00 155.00 L132.00 156.00 L104.00 156.00 L103.00 155.00 L103.00 145.00 Z" fill="#fff"/>
<path d="M104.00 148.25 L91.40 149.50 L104.00 150.75 Z" fill="#fff"/>
<path d="M109.50 143.50V151.50L108.50 152.50H107.50L106.50 151.50V150.50M114.50 145.50L116.50 143.50V152.50M124.50 148.50H121.50L120.50 147.50V145.50L121.50 144.50H123.50L124.50 145.50V151.50L123.50 152.50H121.50L120.50 151.50" fill="none" stroke="#000" stroke-width="1" stroke-linecap="square" stroke-linejoin="miter"/>
<rect x="59" y="156" width="26" height="6" fill="#000" />
<rect x="60" y="157" width="1" height="4" fill="#fff" />
<rect x="66" y="157" width="1" height="4" fill="#fff" />
<rect x="72" y="157" width="1" height="4" fill="#fff" />
<rect x="77" y="157" width="1" height="4" fill="#fff" />
<rect x="83" y="157" width="1" height="4" fill="#fff" />
<rect x="79" y="157" width="3" height="4" fill="#fff" />
<rect x="80" y="158" width="1" height="2" fill="#000" />
<path d="M42.50 162.00 L59.00 159.25 L59.00 157.75 L42.50 155.00 Z" fill="#000"/>
<path d="M9.00 149.00 L42.00 149.00 L44.00 151.00 L44.00 166.00 L42.00 168.00 L9.00 168.00 L7.00 166.00 L7.00 151.00 Z" fill="#000"/>
<path d="M10.00 151.00 L41.00 151.00 L42.00 152.00 L42.00 165.00 L41.00 166.00 L10.00 166.00 L9.00 165.00 L9.00 152.00 Z" fill="#fff"/>
<path d="M41.00 160.00 L53.00 158.50 L41.00 157.00 Z" fill="#fff"/>
<path d="M18.50 152.50V160.50L17.50 161.50H16.50L15.50 160.50V159.50M23.50 161.50V152.50H26.50L27.50 153.50V156.50L26.50 157.50H23.50M31.50 154.50L33.50 152.50V161.50" fill="none" stroke="#000" stroke-width="1" stroke-linecap="square" stroke-linejoin="miter"/>
<rect x="54" y="167" width="31" height="6" fill="#000" />
<rect x="55" y="168" width="1" height="4" fill="#fff" />
<rect x="60" y="168" width="1" height="4" fill="#fff" />
<rect x="66" y="168" width="1" height="4" fill="#fff" />
<rect x="72" y="168" width="1" height="4" fill="#fff" />
<rect x="77" y="168" width="1" height="4" fill="#fff" />
<rect x="83" y="168" width="1" height="4" fill="#fff" />
<rect x="79" y="168" width="3" height="4" fill="#fff" />
<rect x="80" y="169" width="1" height="2" fill="#000" />
<path d="M59.45 185.12 L70.19 174.22 L68.81 172.78 L57.38 182.95 Z" fill="#000"/>
<path d="M22.00 182.00 L59.00 182.00 L61.00 184.00 L61.00 199.00 L59.00 201.00 L22.00 201.00 L20.00 199.00 L20.00 184.00 Z" fill="#000"/>
<path d="M23.00 184.00 L58.00 184.00 L59.00 185.00 L59.00 198.00 L58.00 199.00 L23.00 199.00 L22.00 198.00 L22.00 185.00 Z" fill="#fff"/>
<path d="M57.33 185.07 L64.50 178.25 L57.33 185.07 Z" fill="#fff"/>
<path d="M29.50 186.50V194.50L28.50 195.50H27.50L26.50 194.50V193.50M34.50 195.50V186.50H37.50L38.50 187.50V190.50L37.50 191.50H34.50M43.50 188.50L45.50 186.50V195.50M50.50 188.50L51.50 187.50H53.50L54.50 188.50V190.50L50.50 194.50V195.50H54.50" fill="none" stroke="#000" stroke-width="1" stroke-linecap="square" stroke-linejoin="miter"/>
<path d="M146.5 188.5 L158.5 196.5 V260.5 L165 265.5 M165 268 L158.5 273.5 V336.5 L145.5 344.5" fill="none" stroke="#000" stroke-width="1"/>
<path d="M167.00 255.00 L213.00 255.00 L215.00 257.00 L215.00 272.00 L213.00 274.00 L167.00 274.00 L165.00 272.00 L165.00 257.00 Z" fill="#000"/>
<path d="M168.00 257.00 L212.00 257.00 L213.00 258.00 L213.00 271.00 L212.00 272.00 L168.00 272.00 L167.00 271.00 L167.00 258.00 Z" fill="#fff"/>
<path d="M175.50 260.50L174.50 259.50H171.50L170.50 260.50V267.50L171.50 268.50H174.50L175.50 267.50M178.50 268.50L181.50 259.50L184.50 268.50M179.50 265.50H183.50M193.50 260.50L192.50 259.50H189.50L188.50 260.50V267.50L189.50 268.50H192.50L193.50 267.50M196.50 259.50V268.50M201.50 259.50V268.50M196.50 263.50H201.50M209.50 259.50H205.50V268.50H209.50M205.50 263.50H208.50" fill="none" stroke="#000" stroke-width="1" stroke-linecap="square" stroke-linejoin="miter"/>
<path d="M60.5 446.5 L64.5 452.5 H99.5 L101.5 455.5 L103.5 452.5 H140.5 L144.5 446.5" fill="none" stroke="#000" stroke-width="1"/>
<path d="M82.00 460.00 L128.00 460.00 L130.00 462.00 L130.00 476.00 L128.00 478.00 L82.00 478.00 L80.00 476.00 L80.00 462.00 Z" fill="#000"/>
<path d="M83.00 462.00 L127.00 462.00 L128.00 463.00 L128.00 475.00 L127.00 476.00 L83.00 476.00 L82.00 475.00 L82.00 463.00 Z" fill="#fff"/>
<path d="M89.50 464.50L88.50 463.50H85.50L84.50 464.50V471.50L85.50 472.50H88.50L89.50 471.50M93.50 472.50L96.50 463.50L99.50 472.50M94.50 469.50H98.50M108.50 464.50L107.50 463.50H104.50L103.50 464.50V471.50L104.50 472.50H107.50L108.50 471.50M111.50 463.50V472.50M116.50 463.50V472.50M111.50 467.50H116.50M124.50 463.50H120.50V472.50H124.50M120.50 467.50H123.50" fill="none" stroke="#000" stroke-width="1" stroke-linecap="square" stroke-linejoin="miter"/>
<rect x="80" y="354" width="14" height="18" fill="#000" />
<rect x="81" y="355" width="12" height="16" fill="#fff" />
<rect x="82" y="356" width="4" height="4" fill="#000" />
<rect x="88" y="356" width="4" height="4" fill="#000" />
<rect x="82" y="361" width="4" height="4" fill="#000" />
<rect x="88" y="361" width="4" height="4" fill="#000" />
<rect x="82" y="366" width="4" height="4" fill="#000" />
<rect x="88" y="366" width="4" height="4" fill="#000" />
<rect x="89" y="367" width="2" height="2" fill="#fff" />
<rect x="95" y="354" width="7" height="18" fill="#000" />
<rect x="96" y="360" width="5" height="1" fill="#fff" />
<rect x="96" y="365" width="5" height="1" fill="#fff" />
<rect x="96" y="369" width="5" height="1" fill="#fff" />
<rect x="97" y="366" width="3" height="2" fill="#fff" />
<rect x="105" y="358" width="7" height="14" fill="#000" />
<rect x="106" y="359" width="5" height="1" fill="#fff" />
<rect x="106" y="364" width="5" height="1" fill="#fff" />
<rect x="106" y="370" width="5" height="1" fill="#fff" />
<rect x="113" y="358" width="7" height="14" fill="#000" />
<rect x="114" y="359" width="5" height="1" fill="#fff" />
<rect x="114" y="364" width="5" height="1" fill="#fff" />
<rect x="114" y="370" width="5" height="1" fill="#fff" />
<rect x="122" y="353" width="7" height="19" fill="#000" />
<rect x="123" y="354" width="5" height="17" fill="#fff" />
<rect x="124" y="355" width="3" height="16" fill="#000" />
<rect x="124" y="359" width="3" height="1" fill="#fff" />
<rect x="124" y="363" width="3" height="1" fill="#fff" />
<rect x="124" y="366" width="3" height="3" fill="#fff" />
<rect x="125" y="367" width="1" height="1" fill="#000" />
<rect x="130" y="353" width="7" height="19" fill="#000" />
<rect x="131" y="354" width="5" height="17" fill="#fff" />
<rect x="132" y="355" width="3" height="16" fill="#000" />
<rect x="132" y="359" width="3" height="1" fill="#fff" />
<rect x="132" y="363" width="3" height="1" fill="#fff" />
<rect x="132" y="366" width="3" height="3" fill="#fff" />
<rect x="133" y="367" width="1" height="1" fill="#000" />
<path d="M78.50 351.90L77.50 351.20H76.50L74.50 352.60V356.10L75.50 356.80H77.50L78.50 356.10V354.70L77.50 354.00H75.50L74.50 354.70" fill="none" stroke="#000" stroke-width="1" stroke-linecap="square" stroke-linejoin="miter"/>
<path d="M77.50 376.80V371.20L74.50 374.70V375.40H78.50" fill="none" stroke="#000" stroke-width="1" stroke-linecap="square" stroke-linejoin="miter"/>
<path d="M104.28 350.06 L117.08 358.69 L118.92 356.31 L107.34 346.10 Z" fill="#000"/>
<path d="M78.00 332.00 L109.00 332.00 L111.00 334.00 L111.00 348.00 L109.00 350.00 L78.00 350.00 L76.00 348.00 L76.00 334.00 Z" fill="#000"/>
<path d="M79.00 334.00 L108.00 334.00 L109.00 335.00 L109.00 347.00 L108.00 348.00 L79.00 348.00 L78.00 347.00 L78.00 335.00 Z" fill="#fff"/>
<path d="M104.17 347.76 L112.50 353.25 L105.08 346.57 Z" fill="#fff"/>
<path d="M86.50 336.50V344.50L85.50 345.50H84.50L83.50 344.50V343.50M91.50 345.50V336.50H94.50L95.50 337.50V340.50L94.50 341.50H91.50M102.50 345.50V337.50L99.50 342.50V343.50H103.50" fill="none" stroke="#000" stroke-width="1" stroke-linecap="square" stroke-linejoin="miter"/>
<path d="M62.50 366.50 L80.00 363.75 L80.00 362.25 L62.50 359.50 Z" fill="#000"/>
<path d="M19.00 354.00 L62.00 354.00 L64.00 356.00 L64.00 370.00 L62.00 372.00 L19.00 372.00 L17.00 370.00 L17.00 356.00 Z" fill="#000"/>
<path d="M20.00 356.00 L61.00 356.00 L62.00 357.00 L62.00 369.00 L61.00 370.00 L20.00 370.00 L19.00 369.00 L19.00 357.00 Z" fill="#fff"/>
<path d="M61.00 364.50 L73.60 363.00 L61.00 361.50 Z" fill="#fff"/>
<path d="M25.50 357.50V365.50L24.50 366.50H23.50L22.50 365.50V364.50M28.50 366.50V357.50H31.50L32.50 358.50V361.50L31.50 362.50H28.50M40.50 359.50L39.50 358.50H38.50L36.50 360.50V365.50L37.50 366.50H39.50L40.50 365.50V363.50L39.50 362.50H37.50L36.50 363.50M46.50 357.50L44.50 359.50V364.50L46.50 366.50L48.50 364.50V359.50ZM52.50 359.50L53.50 358.50H55.50L56.50 359.50V361.50L52.50 365.50V366.50H56.50" fill="none" stroke="#000" stroke-width="1" stroke-linecap="square" stroke-linejoin="miter"/>
<path d="M152.50 358.50 L137.00 361.50 L137.00 363.50 L152.50 366.50 Z" fill="#000"/>
<path d="M153.00 353.00 L185.00 353.00 L187.00 355.00 L187.00 370.00 L185.00 372.00 L153.00 372.00 L151.00 370.00 L151.00 355.00 Z" fill="#000"/>
<path d="M154.00 355.00 L184.00 355.00 L185.00 356.00 L185.00 369.00 L184.00 370.00 L154.00 370.00 L153.00 369.00 L153.00 356.00 Z" fill="#fff"/>
<path d="M154.00 361.00 L142.60 362.50 L154.00 364.00 Z" fill="#fff"/>
<path d="M161.50 357.50V365.50L160.50 366.50H159.50L158.50 365.50V364.50M166.50 366.50V357.50H169.50L170.50 358.50V361.50L169.50 362.50H166.50M174.50 359.50L175.50 358.50H177.50L178.50 359.50V361.50L177.50 362.50H175.50M177.50 362.50L178.50 363.50V365.50L177.50 366.50H175.50L174.50 365.50" fill="none" stroke="#000" stroke-width="1" stroke-linecap="square" stroke-linejoin="miter"/>
<path d="M88.89 382.89 L99.44 373.17 L97.56 370.83 L85.77 378.98 Z" fill="#000"/>
<path d="M60.00 379.00 L89.00 379.00 L91.00 381.00 L91.00 395.00 L89.00 397.00 L60.00 397.00 L58.00 395.00 L58.00 381.00 Z" fill="#000"/>
<path d="M61.00 381.00 L88.00 381.00 L89.00 382.00 L89.00 394.00 L88.00 395.00 L61.00 395.00 L60.00 394.00 L60.00 382.00 Z" fill="#fff"/>
<path d="M86.63 382.46 L94.50 375.20 L85.69 381.29 Z" fill="#fff"/>
<path d="M65.50 382.50V390.50L64.50 391.50H63.50L62.50 390.50V389.50M70.50 391.50V382.50H73.50L74.50 383.50V386.50L73.50 387.50H70.50M82.50 383.50H78.50V386.50H81.50L82.50 387.50V390.50L81.50 391.50H79.50L78.50 390.50" fill="none" stroke="#000" stroke-width="1" stroke-linecap="square" stroke-linejoin="miter"/>
<path d="M113.00 390.50 L110.50 372.00 L108.50 372.00 L106.00 390.50 Z" fill="#000"/>
<path d="M95.00 389.00 L123.00 389.00 L125.00 391.00 L125.00 403.00 L123.00 405.00 L95.00 405.00 L93.00 403.00 L93.00 391.00 Z" fill="#000"/>
<path d="M96.00 391.00 L122.00 391.00 L123.00 392.00 L123.00 402.00 L122.00 403.00 L96.00 403.00 L95.00 402.00 L95.00 392.00 Z" fill="#fff"/>
<path d="M110.75 392.00 L109.50 380.50 L108.25 392.00 Z" fill="#fff"/>
<path d="M99.50 392.50V400.50L98.50 401.50H97.50L96.50 400.50V399.50M104.50 401.50V392.50H107.50L108.50 393.50V396.50L107.50 397.50H104.50M113.50 393.50H115.50L116.50 394.50V396.50L115.50 397.50H113.50L112.50 396.50V394.50ZM113.50 397.50L112.50 398.50V400.50L113.50 401.50H115.50L116.50 400.50V398.50L115.50 397.50" fill="none" stroke="#000" stroke-width="1" stroke-linecap="square" stroke-linejoin="miter"/>
<path d="M137.75 378.54 L126.96 370.85 L125.04 373.15 L134.55 382.38 Z" fill="#000"/>
<path d="M134.00 379.00 L165.00 379.00 L167.00 381.00 L167.00 394.00 L165.00 396.00 L134.00 396.00 L132.00 394.00 L132.00 381.00 Z" fill="#000"/>
<path d="M135.00 381.00 L164.00 381.00 L165.00 382.00 L165.00 393.00 L164.00 394.00 L135.00 394.00 L134.00 393.00 L134.00 382.00 Z" fill="#fff"/>
<path d="M137.78 380.84 L130.50 375.75 L136.82 382.00 Z" fill="#fff"/>
<path d="M142.50 382.50V390.50L141.50 391.50H140.50L139.50 390.50V389.50M146.50 391.50V382.50H149.50L150.50 383.50V386.50L149.50 387.50H146.50M158.50 384.50L157.50 383.50H156.50L154.50 385.50V390.50L155.50 391.50H157.50L158.50 390.50V388.50L157.50 387.50H155.50L154.50 388.50" fill="none" stroke="#000" stroke-width="1" stroke-linecap="square" stroke-linejoin="miter"/>
<rect x="195" y="349" width="6" height="19" fill="#000" />
<rect x="196" y="355" width="4" height="1" fill="#fff" />
<rect x="196" y="361" width="4" height="1" fill="#fff" />
<rect x="197" y="363" width="2" height="3" fill="#fff" />
<rect x="198" y="364" width="1" height="1" fill="#000" />
<rect x="203" y="349" width="7" height="19" fill="#000" />
<rect x="204" y="350" width="5" height="17" fill="#fff" />
<rect x="205" y="351" width="3" height="16" fill="#000" />
<rect x="205" y="355" width="3" height="1" fill="#fff" />
<rect x="205" y="360" width="3" height="1" fill="#fff" />
<rect x="205" y="363" width="3" height="3" fill="#fff" />
<rect x="206" y="364" width="1" height="1" fill="#000" />
<rect x="212" y="349" width="7" height="19" fill="#000" />
<rect x="213" y="350" width="5" height="17" fill="#fff" />
<rect x="214" y="351" width="3" height="16" fill="#000" />
<rect x="214" y="355" width="3" height="1" fill="#fff" />
<rect x="214" y="360" width="3" height="1" fill="#fff" />
<rect x="214" y="363" width="3" height="3" fill="#fff" />
<rect x="215" y="364" width="1" height="1" fill="#000" />
<path d="M210.24 333.19 L197.42 347.96 L199.58 350.04 L213.84 336.65 Z" fill="#000"/>
<path d="M210.00 318.00 L256.00 318.00 L258.00 320.00 L258.00 335.00 L256.00 337.00 L210.00 337.00 L208.00 335.00 L208.00 320.00 Z" fill="#000"/>
<path d="M211.00 320.00 L255.00 320.00 L256.00 321.00 L256.00 334.00 L255.00 335.00 L211.00 335.00 L210.00 334.00 L210.00 321.00 Z" fill="#fff"/>
<path d="M212.54 333.32 L203.50 343.80 L213.62 334.36 Z" fill="#fff"/>
<path d="M215.50 322.50V330.50L214.50 331.50H213.50L212.50 330.50V329.50M219.50 331.50V322.50H222.50L223.50 323.50V326.50L222.50 327.50H219.50M231.50 323.50H227.50V326.50H230.50L231.50 327.50V330.50L230.50 331.50H228.50L227.50 330.50M237.50 322.50L235.50 324.50V329.50L237.50 331.50L239.50 329.50V324.50ZM244.50 324.50L245.50 323.50H247.50L248.50 324.50V326.50L244.50 330.50V331.50H248.50" fill="none" stroke="#000" stroke-width="1" stroke-linecap="square" stroke-linejoin="miter"/>
<path d="M235.50 356.00 L219.00 358.75 L219.00 360.25 L235.50 363.00 Z" fill="#000"/>
<path d="M236.00 351.00 L281.00 351.00 L283.00 353.00 L283.00 366.00 L281.00 368.00 L236.00 368.00 L234.00 366.00 L234.00 353.00 Z" fill="#000"/>
<path d="M237.00 353.00 L280.00 353.00 L281.00 354.00 L281.00 365.00 L280.00 366.00 L237.00 366.00 L236.00 365.00 L236.00 354.00 Z" fill="#fff"/>
<path d="M237.00 358.00 L225.00 359.50 L237.00 361.00 Z" fill="#fff"/>
<path d="M241.50 353.50V361.50L240.50 362.50H239.50L238.50 361.50V360.50M246.50 362.50V353.50H249.50L250.50 354.50V357.50L249.50 358.50H246.50M259.50 355.50L258.50 354.50H257.50L255.50 356.50V361.50L256.50 362.50H258.50L259.50 361.50V359.50L258.50 358.50H256.50L255.50 359.50M266.50 353.50L264.50 355.50V360.50L266.50 362.50L268.50 360.50V355.50ZM273.50 355.50L275.50 353.50V362.50" fill="none" stroke="#000" stroke-width="1" stroke-linecap="square" stroke-linejoin="miter"/>
<path d="M209.00 387.50 L207.00 367.00 L205.00 367.00 L203.00 387.50 Z" fill="#000"/>
<path d="M186.00 386.00 L228.00 386.00 L230.00 388.00 L230.00 402.00 L228.00 404.00 L186.00 404.00 L184.00 402.00 L184.00 388.00 Z" fill="#000"/>
<path d="M187.00 388.00 L227.00 388.00 L228.00 389.00 L228.00 401.00 L227.00 402.00 L187.00 402.00 L186.00 401.00 L186.00 389.00 Z" fill="#fff"/>
<path d="M207.00 389.00 L206.00 376.50 L205.00 389.00 Z" fill="#fff"/>
<path d="M191.50 389.50V397.50L190.50 398.50H189.50L188.50 397.50V396.50M196.50 398.50V389.50H199.50L200.50 390.50V393.50L199.50 394.50H196.50M208.50 390.50H204.50V393.50H207.50L208.50 394.50V397.50L207.50 398.50H205.50L204.50 397.50M215.50 389.50L213.50 391.50V396.50L215.50 398.50L217.50 396.50V391.50ZM222.50 391.50L224.50 389.50V398.50" fill="none" stroke="#000" stroke-width="1" stroke-linecap="square" stroke-linejoin="miter"/>
<rect x="816" y="349" width="13" height="6" fill="#000" />
<rect x="822" y="350" width="1" height="4" fill="#fff" />
<rect x="826" y="350" width="1" height="4" fill="#fff" />
<rect x="804" y="359" width="26" height="6" fill="#000" />
<rect x="806" y="360" width="1" height="4" fill="#fff" />
<rect x="812" y="360" width="1" height="4" fill="#fff" />
<rect x="818" y="360" width="1" height="4" fill="#fff" />
<rect x="824" y="360" width="1" height="4" fill="#fff" />
<rect x="828" y="360" width="1" height="4" fill="#fff" />
<path d="M818.00 328.50 L821.25 349.00 L822.75 349.00 L826.00 328.50 Z" fill="#000"/>
<path d="M802.00 311.00 L842.00 311.00 L844.00 313.00 L844.00 328.00 L842.00 330.00 L802.00 330.00 L800.00 328.00 L800.00 313.00 Z" fill="#000"/>
<path d="M803.00 313.00 L841.00 313.00 L842.00 314.00 L842.00 327.00 L841.00 328.00 L803.00 328.00 L802.00 327.00 L802.00 314.00 Z" fill="#fff"/>
<path d="M820.50 327.00 L822.00 341.40 L823.50 327.00 Z" fill="#fff"/>
<path d="M810.50 315.50V323.50L809.50 324.50H808.50L807.50 323.50V322.50M816.50 324.50V315.50H819.50L820.50 316.50V319.50L819.50 320.50H816.50M825.50 317.50L827.50 315.50V324.50M832.50 317.50L834.50 315.50V324.50" fill="none" stroke="#000" stroke-width="1" stroke-linecap="square" stroke-linejoin="miter"/>
<path d="M790.23 373.91 L804.87 362.22 L803.13 359.78 L787.33 369.84 Z" fill="#000"/>
<path d="M757.00 370.00 L794.00 370.00 L796.00 372.00 L796.00 386.00 L794.00 388.00 L757.00 388.00 L755.00 386.00 L755.00 372.00 Z" fill="#000"/>
<path d="M758.00 372.00 L793.00 372.00 L794.00 373.00 L794.00 385.00 L793.00 386.00 L758.00 386.00 L757.00 385.00 L757.00 373.00 Z" fill="#fff"/>
<path d="M787.99 373.35 L797.00 366.00 L787.12 372.13 Z" fill="#fff"/>
<path d="M763.50 372.50V380.50L762.50 381.50H761.50L760.50 380.50V379.50M768.50 381.50V372.50H771.50L772.50 373.50V376.50L771.50 377.50H768.50M778.50 374.50L780.50 372.50V381.50M786.50 374.50L787.50 373.50H789.50L790.50 374.50V376.50L789.50 377.50H787.50M789.50 377.50L790.50 378.50V380.50L789.50 381.50H787.50L786.50 380.50" fill="none" stroke="#000" stroke-width="1" stroke-linecap="square" stroke-linejoin="miter"/>
</svg></body></html>
